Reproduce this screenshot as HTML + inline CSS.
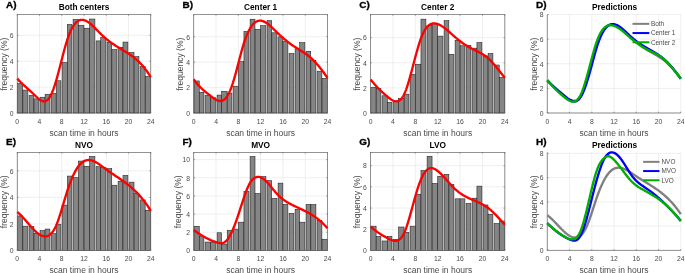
<!DOCTYPE html>
<html><head><meta charset="utf-8"><title>Scan time distributions</title>
<style>html,body{margin:0;padding:0;background:#fff}svg{display:block}</style></head>
<body>
<svg width="685" height="273" viewBox="0 0 685 273" font-family='"Liberation Sans", sans-serif'>
<rect width="685" height="273" fill="#fff"/>
<g>
<line x1="17.25" y1="14.5" x2="17.25" y2="113" stroke="#e4e4e4" stroke-width="0.6"/>
<line x1="39.5" y1="14.5" x2="39.5" y2="113" stroke="#e4e4e4" stroke-width="0.6"/>
<line x1="61.75" y1="14.5" x2="61.75" y2="113" stroke="#e4e4e4" stroke-width="0.6"/>
<line x1="84" y1="14.5" x2="84" y2="113" stroke="#e4e4e4" stroke-width="0.6"/>
<line x1="106.25" y1="14.5" x2="106.25" y2="113" stroke="#e4e4e4" stroke-width="0.6"/>
<line x1="128.5" y1="14.5" x2="128.5" y2="113" stroke="#e4e4e4" stroke-width="0.6"/>
<line x1="150.75" y1="14.5" x2="150.75" y2="113" stroke="#e4e4e4" stroke-width="0.6"/>
<line x1="17.25" y1="113" x2="150.75" y2="113" stroke="#e4e4e4" stroke-width="0.6"/>
<line x1="17.25" y1="87.11" x2="150.75" y2="87.11" stroke="#e4e4e4" stroke-width="0.6"/>
<line x1="17.25" y1="61.23" x2="150.75" y2="61.23" stroke="#e4e4e4" stroke-width="0.6"/>
<line x1="17.25" y1="35.34" x2="150.75" y2="35.34" stroke="#e4e4e4" stroke-width="0.6"/>
<rect x="17.5" y="83.62" width="5.26" height="29.38" fill="#858585" stroke="#1c1c1c" stroke-width="0.55"/>
<rect x="22.86" y="90.09" width="5.04" height="22.91" fill="#858585" stroke="#1c1c1c" stroke-width="0.55"/>
<rect x="29.1" y="95.4" width="4.79" height="17.6" fill="#858585" stroke="#1c1c1c" stroke-width="0.55"/>
<rect x="33.99" y="98.89" width="4.91" height="14.11" fill="#858585" stroke="#1c1c1c" stroke-width="0.55"/>
<rect x="40.1" y="97.21" width="4.91" height="15.79" fill="#858585" stroke="#1c1c1c" stroke-width="0.55"/>
<rect x="45.11" y="94.23" width="4.79" height="18.77" fill="#858585" stroke="#1c1c1c" stroke-width="0.55"/>
<rect x="51.1" y="93.46" width="5.04" height="19.54" fill="#858585" stroke="#1c1c1c" stroke-width="0.55"/>
<rect x="56.24" y="80.77" width="4.66" height="32.23" fill="#858585" stroke="#1c1c1c" stroke-width="0.55"/>
<rect x="62.1" y="62.52" width="5.16" height="50.48" fill="#858585" stroke="#1c1c1c" stroke-width="0.55"/>
<rect x="67.36" y="24.47" width="4.54" height="88.53" fill="#858585" stroke="#1c1c1c" stroke-width="0.55"/>
<rect x="73.1" y="19.42" width="5.29" height="93.58" fill="#858585" stroke="#1c1c1c" stroke-width="0.55"/>
<rect x="78.49" y="25.24" width="5.46" height="87.76" fill="#858585" stroke="#1c1c1c" stroke-width="0.55"/>
<rect x="84.05" y="28.22" width="5.46" height="84.78" fill="#858585" stroke="#1c1c1c" stroke-width="0.55"/>
<rect x="89.61" y="19.03" width="5.29" height="93.97" fill="#858585" stroke="#1c1c1c" stroke-width="0.55"/>
<rect x="96.1" y="40.9" width="4.54" height="72.1" fill="#858585" stroke="#1c1c1c" stroke-width="0.55"/>
<rect x="100.74" y="37.41" width="5.16" height="75.59" fill="#858585" stroke="#1c1c1c" stroke-width="0.55"/>
<rect x="107.1" y="42.2" width="4.66" height="70.8" fill="#858585" stroke="#1c1c1c" stroke-width="0.55"/>
<rect x="111.86" y="49.58" width="5.04" height="63.42" fill="#858585" stroke="#1c1c1c" stroke-width="0.55"/>
<rect x="118.1" y="47.25" width="4.79" height="65.75" fill="#858585" stroke="#1c1c1c" stroke-width="0.55"/>
<rect x="122.99" y="42.07" width="4.91" height="70.93" fill="#858585" stroke="#1c1c1c" stroke-width="0.55"/>
<rect x="129.1" y="52.42" width="4.91" height="60.58" fill="#858585" stroke="#1c1c1c" stroke-width="0.55"/>
<rect x="134.11" y="56.7" width="4.79" height="56.3" fill="#858585" stroke="#1c1c1c" stroke-width="0.55"/>
<rect x="140.1" y="66.66" width="5.04" height="46.34" fill="#858585" stroke="#1c1c1c" stroke-width="0.55"/>
<rect x="145.24" y="76.5" width="5.26" height="36.5" fill="#858585" stroke="#1c1c1c" stroke-width="0.55"/>
<rect x="17.25" y="14.5" width="133.5" height="98.5" fill="none" stroke="#666" stroke-width="0.7"/>
<line x1="17.25" y1="113" x2="17.25" y2="111.7" stroke="#666" stroke-width="0.6"/>
<line x1="17.25" y1="14.5" x2="17.25" y2="15.8" stroke="#666" stroke-width="0.6"/>
<line x1="39.5" y1="113" x2="39.5" y2="111.7" stroke="#666" stroke-width="0.6"/>
<line x1="39.5" y1="14.5" x2="39.5" y2="15.8" stroke="#666" stroke-width="0.6"/>
<line x1="61.75" y1="113" x2="61.75" y2="111.7" stroke="#666" stroke-width="0.6"/>
<line x1="61.75" y1="14.5" x2="61.75" y2="15.8" stroke="#666" stroke-width="0.6"/>
<line x1="84" y1="113" x2="84" y2="111.7" stroke="#666" stroke-width="0.6"/>
<line x1="84" y1="14.5" x2="84" y2="15.8" stroke="#666" stroke-width="0.6"/>
<line x1="106.25" y1="113" x2="106.25" y2="111.7" stroke="#666" stroke-width="0.6"/>
<line x1="106.25" y1="14.5" x2="106.25" y2="15.8" stroke="#666" stroke-width="0.6"/>
<line x1="128.5" y1="113" x2="128.5" y2="111.7" stroke="#666" stroke-width="0.6"/>
<line x1="128.5" y1="14.5" x2="128.5" y2="15.8" stroke="#666" stroke-width="0.6"/>
<line x1="150.75" y1="113" x2="150.75" y2="111.7" stroke="#666" stroke-width="0.6"/>
<line x1="150.75" y1="14.5" x2="150.75" y2="15.8" stroke="#666" stroke-width="0.6"/>
<line x1="17.25" y1="113" x2="18.55" y2="113" stroke="#666" stroke-width="0.6"/>
<line x1="150.75" y1="113" x2="149.45" y2="113" stroke="#666" stroke-width="0.6"/>
<line x1="17.25" y1="87.11" x2="18.55" y2="87.11" stroke="#666" stroke-width="0.6"/>
<line x1="150.75" y1="87.11" x2="149.45" y2="87.11" stroke="#666" stroke-width="0.6"/>
<line x1="17.25" y1="61.23" x2="18.55" y2="61.23" stroke="#666" stroke-width="0.6"/>
<line x1="150.75" y1="61.23" x2="149.45" y2="61.23" stroke="#666" stroke-width="0.6"/>
<line x1="17.25" y1="35.34" x2="18.55" y2="35.34" stroke="#666" stroke-width="0.6"/>
<line x1="150.75" y1="35.34" x2="149.45" y2="35.34" stroke="#666" stroke-width="0.6"/>
<path d="M17.25 78.56 L17.95 79.34 L18.64 80.09 L19.34 80.83 L20.03 81.55 L20.73 82.26 L21.42 82.95 L22.12 83.62 L22.81 84.28 L23.51 84.94 L24.2 85.58 L24.9 86.22 L25.59 86.85 L26.29 87.47 L26.98 88.09 L27.68 88.71 L28.38 89.33 L29.07 89.95 L29.77 90.57 L30.46 91.19 L31.16 91.82 L31.85 92.45 L32.55 93.1 L33.24 93.75 L33.94 94.41 L34.63 95.09 L35.33 95.76 L36.02 96.44 L36.72 97.1 L37.41 97.74 L38.11 98.36 L38.8 98.94 L39.5 99.48 L40.2 99.96 L40.89 100.39 L41.59 100.75 L42.28 101.03 L42.98 101.23 L43.67 101.35 L44.37 101.36 L45.06 101.26 L45.76 101.06 L46.45 100.73 L47.15 100.27 L47.84 99.67 L48.54 98.92 L49.23 98.03 L49.93 96.97 L50.62 95.74 L51.32 94.33 L52.02 92.76 L52.71 91.04 L53.41 89.17 L54.1 87.17 L54.8 85.05 L55.49 82.82 L56.19 80.49 L56.88 78.07 L57.58 75.58 L58.27 73.02 L58.97 70.41 L59.66 67.76 L60.36 65.08 L61.05 62.39 L61.75 59.68 L62.45 56.98 L63.14 54.3 L63.84 51.65 L64.53 49.06 L65.23 46.55 L65.92 44.12 L66.62 41.79 L67.31 39.59 L68.01 37.52 L68.7 35.59 L69.4 33.79 L70.09 32.11 L70.79 30.56 L71.48 29.14 L72.18 27.82 L72.88 26.63 L73.57 25.54 L74.27 24.56 L74.96 23.69 L75.66 22.91 L76.35 22.23 L77.05 21.64 L77.74 21.15 L78.44 20.74 L79.13 20.41 L79.83 20.16 L80.52 19.98 L81.22 19.88 L81.91 19.85 L82.61 19.88 L83.3 19.97 L84 20.12 L84.7 20.33 L85.39 20.59 L86.09 20.9 L86.78 21.26 L87.48 21.67 L88.17 22.11 L88.87 22.59 L89.56 23.11 L90.26 23.67 L90.95 24.25 L91.65 24.85 L92.34 25.49 L93.04 26.14 L93.73 26.81 L94.43 27.49 L95.12 28.19 L95.82 28.9 L96.52 29.61 L97.21 30.33 L97.91 31.04 L98.6 31.75 L99.3 32.46 L99.99 33.16 L100.69 33.85 L101.38 34.52 L102.08 35.18 L102.77 35.82 L103.47 36.45 L104.16 37.07 L104.86 37.68 L105.55 38.27 L106.25 38.85 L106.95 39.42 L107.64 39.98 L108.34 40.53 L109.03 41.06 L109.73 41.59 L110.42 42.11 L111.12 42.61 L111.81 43.11 L112.51 43.6 L113.2 44.08 L113.9 44.56 L114.59 45.02 L115.29 45.48 L115.98 45.94 L116.68 46.38 L117.38 46.82 L118.07 47.26 L118.77 47.69 L119.46 48.11 L120.16 48.53 L120.85 48.95 L121.55 49.37 L122.24 49.79 L122.94 50.21 L123.63 50.63 L124.33 51.05 L125.02 51.48 L125.72 51.91 L126.41 52.34 L127.11 52.78 L127.8 53.23 L128.5 53.68 L129.2 54.14 L129.89 54.61 L130.59 55.09 L131.28 55.58 L131.98 56.08 L132.67 56.6 L133.37 57.12 L134.06 57.67 L134.76 58.22 L135.45 58.79 L136.15 59.38 L136.84 59.99 L137.54 60.62 L138.23 61.26 L138.93 61.93 L139.62 62.61 L140.32 63.32 L141.02 64.05 L141.71 64.8 L142.41 65.58 L143.1 66.38 L143.8 67.21 L144.49 68.07 L145.19 68.96 L145.88 69.87 L146.58 70.81 L147.27 71.78 L147.97 72.79 L148.66 73.83 L149.36 74.9 L150.05 76 L150.75 77.14" fill="none" stroke="#ff0000" stroke-width="2.35" stroke-linejoin="round"/>
<text x="17.25" y="123.9" font-size="6.8" fill="#4a4a4a" text-anchor="middle">0</text>
<text x="39.5" y="123.9" font-size="6.8" fill="#4a4a4a" text-anchor="middle">4</text>
<text x="61.75" y="123.9" font-size="6.8" fill="#4a4a4a" text-anchor="middle">8</text>
<text x="84" y="123.9" font-size="6.8" fill="#4a4a4a" text-anchor="middle">12</text>
<text x="106.25" y="123.9" font-size="6.8" fill="#4a4a4a" text-anchor="middle">16</text>
<text x="128.5" y="123.9" font-size="6.8" fill="#4a4a4a" text-anchor="middle">20</text>
<text x="150.75" y="123.9" font-size="6.8" fill="#4a4a4a" text-anchor="middle">24</text>
<text x="13.55" y="115.8" font-size="6.8" fill="#4a4a4a" text-anchor="end">0</text>
<text x="13.55" y="89.91" font-size="6.8" fill="#4a4a4a" text-anchor="end">2</text>
<text x="13.55" y="64.03" font-size="6.8" fill="#4a4a4a" text-anchor="end">4</text>
<text x="13.55" y="38.14" font-size="6.8" fill="#4a4a4a" text-anchor="end">6</text>
<text x="84" y="136" font-size="8.5" fill="#4a4a4a" text-anchor="middle">scan time in hours</text>
<text transform="translate(6.75 64.15) rotate(-90)" font-size="8.5" fill="#4a4a4a" text-anchor="middle">frequency (%)</text>
<text x="84" y="9.9" font-size="8.3" font-weight="bold" fill="#000" text-anchor="middle">Both centers</text>
<text transform="translate(6.05 7.5) scale(1.07 1)" font-size="9.3" font-weight="bold" fill="#000" stroke="#000" stroke-width="0.3">A)</text>
</g>
<g>
<line x1="193.72" y1="14.5" x2="193.72" y2="113" stroke="#e4e4e4" stroke-width="0.6"/>
<line x1="216.02" y1="14.5" x2="216.02" y2="113" stroke="#e4e4e4" stroke-width="0.6"/>
<line x1="238.32" y1="14.5" x2="238.32" y2="113" stroke="#e4e4e4" stroke-width="0.6"/>
<line x1="260.62" y1="14.5" x2="260.62" y2="113" stroke="#e4e4e4" stroke-width="0.6"/>
<line x1="282.92" y1="14.5" x2="282.92" y2="113" stroke="#e4e4e4" stroke-width="0.6"/>
<line x1="305.22" y1="14.5" x2="305.22" y2="113" stroke="#e4e4e4" stroke-width="0.6"/>
<line x1="327.52" y1="14.5" x2="327.52" y2="113" stroke="#e4e4e4" stroke-width="0.6"/>
<line x1="193.72" y1="113" x2="327.52" y2="113" stroke="#e4e4e4" stroke-width="0.6"/>
<line x1="193.72" y1="87.58" x2="327.52" y2="87.58" stroke="#e4e4e4" stroke-width="0.6"/>
<line x1="193.72" y1="62.16" x2="327.52" y2="62.16" stroke="#e4e4e4" stroke-width="0.6"/>
<line x1="193.72" y1="36.74" x2="327.52" y2="36.74" stroke="#e4e4e4" stroke-width="0.6"/>
<rect x="193.97" y="80.97" width="5.27" height="32.03" fill="#858585" stroke="#1c1c1c" stroke-width="0.55"/>
<rect x="199.34" y="92.28" width="4.56" height="20.72" fill="#858585" stroke="#1c1c1c" stroke-width="0.55"/>
<rect x="205.1" y="95.33" width="5.29" height="17.67" fill="#858585" stroke="#1c1c1c" stroke-width="0.55"/>
<rect x="210.5" y="97.75" width="5.41" height="15.25" fill="#858585" stroke="#1c1c1c" stroke-width="0.55"/>
<rect x="217.1" y="95.08" width="4.44" height="17.92" fill="#858585" stroke="#1c1c1c" stroke-width="0.55"/>
<rect x="221.65" y="91.27" width="5.47" height="21.73" fill="#858585" stroke="#1c1c1c" stroke-width="0.55"/>
<rect x="227.22" y="93.05" width="4.68" height="19.95" fill="#858585" stroke="#1c1c1c" stroke-width="0.55"/>
<rect x="233.1" y="86.18" width="5.17" height="26.82" fill="#858585" stroke="#1c1c1c" stroke-width="0.55"/>
<rect x="238.37" y="61.65" width="5.47" height="51.35" fill="#858585" stroke="#1c1c1c" stroke-width="0.55"/>
<rect x="243.95" y="31.4" width="4.95" height="81.6" fill="#858585" stroke="#1c1c1c" stroke-width="0.55"/>
<rect x="250.1" y="19.2" width="4.9" height="93.8" fill="#858585" stroke="#1c1c1c" stroke-width="0.55"/>
<rect x="255.1" y="29.37" width="5.47" height="83.63" fill="#858585" stroke="#1c1c1c" stroke-width="0.55"/>
<rect x="260.67" y="25.68" width="5.23" height="87.32" fill="#858585" stroke="#1c1c1c" stroke-width="0.55"/>
<rect x="267.1" y="20.6" width="4.62" height="92.4" fill="#858585" stroke="#1c1c1c" stroke-width="0.55"/>
<rect x="271.82" y="32.8" width="5.08" height="80.2" fill="#858585" stroke="#1c1c1c" stroke-width="0.55"/>
<rect x="278.1" y="36.87" width="4.77" height="76.13" fill="#858585" stroke="#1c1c1c" stroke-width="0.55"/>
<rect x="282.97" y="41.57" width="4.93" height="71.43" fill="#858585" stroke="#1c1c1c" stroke-width="0.55"/>
<rect x="289.1" y="53.52" width="4.8" height="59.48" fill="#858585" stroke="#1c1c1c" stroke-width="0.55"/>
<rect x="295.1" y="48.82" width="4.49" height="64.18" fill="#858585" stroke="#1c1c1c" stroke-width="0.55"/>
<rect x="299.69" y="42.72" width="5.2" height="70.28" fill="#858585" stroke="#1c1c1c" stroke-width="0.55"/>
<rect x="306.1" y="51.23" width="4.64" height="61.77" fill="#858585" stroke="#1c1c1c" stroke-width="0.55"/>
<rect x="310.85" y="60.38" width="5.05" height="52.62" fill="#858585" stroke="#1c1c1c" stroke-width="0.55"/>
<rect x="317.1" y="71.19" width="4.79" height="41.81" fill="#858585" stroke="#1c1c1c" stroke-width="0.55"/>
<rect x="322" y="78.3" width="5.27" height="34.7" fill="#858585" stroke="#1c1c1c" stroke-width="0.55"/>
<rect x="193.72" y="14.5" width="133.8" height="98.5" fill="none" stroke="#666" stroke-width="0.7"/>
<line x1="193.72" y1="113" x2="193.72" y2="111.7" stroke="#666" stroke-width="0.6"/>
<line x1="193.72" y1="14.5" x2="193.72" y2="15.8" stroke="#666" stroke-width="0.6"/>
<line x1="216.02" y1="113" x2="216.02" y2="111.7" stroke="#666" stroke-width="0.6"/>
<line x1="216.02" y1="14.5" x2="216.02" y2="15.8" stroke="#666" stroke-width="0.6"/>
<line x1="238.32" y1="113" x2="238.32" y2="111.7" stroke="#666" stroke-width="0.6"/>
<line x1="238.32" y1="14.5" x2="238.32" y2="15.8" stroke="#666" stroke-width="0.6"/>
<line x1="260.62" y1="113" x2="260.62" y2="111.7" stroke="#666" stroke-width="0.6"/>
<line x1="260.62" y1="14.5" x2="260.62" y2="15.8" stroke="#666" stroke-width="0.6"/>
<line x1="282.92" y1="113" x2="282.92" y2="111.7" stroke="#666" stroke-width="0.6"/>
<line x1="282.92" y1="14.5" x2="282.92" y2="15.8" stroke="#666" stroke-width="0.6"/>
<line x1="305.22" y1="113" x2="305.22" y2="111.7" stroke="#666" stroke-width="0.6"/>
<line x1="305.22" y1="14.5" x2="305.22" y2="15.8" stroke="#666" stroke-width="0.6"/>
<line x1="327.52" y1="113" x2="327.52" y2="111.7" stroke="#666" stroke-width="0.6"/>
<line x1="327.52" y1="14.5" x2="327.52" y2="15.8" stroke="#666" stroke-width="0.6"/>
<line x1="193.72" y1="113" x2="195.02" y2="113" stroke="#666" stroke-width="0.6"/>
<line x1="327.52" y1="113" x2="326.22" y2="113" stroke="#666" stroke-width="0.6"/>
<line x1="193.72" y1="87.58" x2="195.02" y2="87.58" stroke="#666" stroke-width="0.6"/>
<line x1="327.52" y1="87.58" x2="326.22" y2="87.58" stroke="#666" stroke-width="0.6"/>
<line x1="193.72" y1="62.16" x2="195.02" y2="62.16" stroke="#666" stroke-width="0.6"/>
<line x1="327.52" y1="62.16" x2="326.22" y2="62.16" stroke="#666" stroke-width="0.6"/>
<line x1="193.72" y1="36.74" x2="195.02" y2="36.74" stroke="#666" stroke-width="0.6"/>
<line x1="327.52" y1="36.74" x2="326.22" y2="36.74" stroke="#666" stroke-width="0.6"/>
<path d="M193.72 79.28 L194.42 80.26 L195.11 81.21 L195.81 82.12 L196.51 83 L197.2 83.84 L197.9 84.65 L198.6 85.43 L199.29 86.18 L199.99 86.9 L200.69 87.6 L201.39 88.27 L202.08 88.93 L202.78 89.56 L203.48 90.18 L204.17 90.78 L204.87 91.37 L205.57 91.94 L206.26 92.51 L206.96 93.06 L207.66 93.62 L208.35 94.16 L209.05 94.7 L209.75 95.25 L210.44 95.79 L211.14 96.34 L211.84 96.88 L212.54 97.41 L213.23 97.93 L213.93 98.42 L214.63 98.89 L215.32 99.33 L216.02 99.73 L216.72 100.09 L217.41 100.4 L218.11 100.65 L218.81 100.84 L219.5 100.96 L220.2 101.01 L220.9 100.98 L221.59 100.87 L222.29 100.67 L222.99 100.37 L223.69 99.96 L224.38 99.45 L225.08 98.83 L225.78 98.09 L226.47 97.22 L227.17 96.22 L227.87 95.08 L228.56 93.81 L229.26 92.41 L229.96 90.87 L230.65 89.19 L231.35 87.38 L232.05 85.44 L232.75 83.37 L233.44 81.17 L234.14 78.86 L234.84 76.45 L235.53 73.95 L236.23 71.38 L236.93 68.77 L237.62 66.11 L238.32 63.44 L239.02 60.75 L239.71 58.08 L240.41 55.44 L241.11 52.84 L241.8 50.3 L242.5 47.84 L243.2 45.47 L243.9 43.21 L244.59 41.08 L245.29 39.07 L245.99 37.18 L246.68 35.41 L247.38 33.75 L248.08 32.21 L248.77 30.78 L249.47 29.46 L250.17 28.24 L250.86 27.12 L251.56 26.11 L252.26 25.19 L252.95 24.36 L253.65 23.63 L254.35 22.98 L255.05 22.42 L255.74 21.94 L256.44 21.54 L257.14 21.22 L257.83 20.97 L258.53 20.8 L259.23 20.69 L259.92 20.65 L260.62 20.68 L261.32 20.76 L262.01 20.9 L262.71 21.1 L263.41 21.35 L264.1 21.65 L264.8 21.99 L265.5 22.38 L266.19 22.81 L266.89 23.27 L267.59 23.77 L268.29 24.3 L268.98 24.86 L269.68 25.45 L270.38 26.06 L271.07 26.68 L271.77 27.33 L272.47 27.99 L273.16 28.66 L273.86 29.34 L274.56 30.03 L275.25 30.71 L275.95 31.4 L276.65 32.08 L277.35 32.76 L278.04 33.43 L278.74 34.09 L279.44 34.74 L280.13 35.38 L280.83 36.02 L281.53 36.64 L282.22 37.26 L282.92 37.86 L283.62 38.46 L284.31 39.05 L285.01 39.63 L285.71 40.2 L286.4 40.76 L287.1 41.32 L287.8 41.86 L288.5 42.4 L289.19 42.93 L289.89 43.44 L290.59 43.95 L291.28 44.46 L291.98 44.95 L292.68 45.43 L293.37 45.91 L294.07 46.37 L294.77 46.83 L295.46 47.28 L296.16 47.72 L296.86 48.16 L297.55 48.6 L298.25 49.03 L298.95 49.47 L299.64 49.9 L300.34 50.33 L301.04 50.77 L301.74 51.21 L302.43 51.66 L303.13 52.11 L303.83 52.57 L304.52 53.04 L305.22 53.51 L305.92 54 L306.61 54.51 L307.31 55.02 L308.01 55.56 L308.7 56.1 L309.4 56.67 L310.1 57.26 L310.8 57.86 L311.49 58.49 L312.19 59.13 L312.89 59.8 L313.58 60.49 L314.28 61.2 L314.98 61.93 L315.67 62.68 L316.37 63.44 L317.07 64.23 L317.76 65.03 L318.46 65.85 L319.16 66.69 L319.85 67.54 L320.55 68.42 L321.25 69.31 L321.94 70.21 L322.64 71.13 L323.34 72.07 L324.04 73.02 L324.73 73.98 L325.43 74.96 L326.13 75.95 L326.82 76.96 L327.52 77.98" fill="none" stroke="#ff0000" stroke-width="2.35" stroke-linejoin="round"/>
<text x="193.72" y="123.9" font-size="6.8" fill="#4a4a4a" text-anchor="middle">0</text>
<text x="216.02" y="123.9" font-size="6.8" fill="#4a4a4a" text-anchor="middle">4</text>
<text x="238.32" y="123.9" font-size="6.8" fill="#4a4a4a" text-anchor="middle">8</text>
<text x="260.62" y="123.9" font-size="6.8" fill="#4a4a4a" text-anchor="middle">12</text>
<text x="282.92" y="123.9" font-size="6.8" fill="#4a4a4a" text-anchor="middle">16</text>
<text x="305.22" y="123.9" font-size="6.8" fill="#4a4a4a" text-anchor="middle">20</text>
<text x="327.52" y="123.9" font-size="6.8" fill="#4a4a4a" text-anchor="middle">24</text>
<text x="190.02" y="115.8" font-size="6.8" fill="#4a4a4a" text-anchor="end">0</text>
<text x="190.02" y="90.38" font-size="6.8" fill="#4a4a4a" text-anchor="end">2</text>
<text x="190.02" y="64.96" font-size="6.8" fill="#4a4a4a" text-anchor="end">4</text>
<text x="190.02" y="39.54" font-size="6.8" fill="#4a4a4a" text-anchor="end">6</text>
<text x="260.62" y="136" font-size="8.5" fill="#4a4a4a" text-anchor="middle">scan time in hours</text>
<text transform="translate(183.22 64.15) rotate(-90)" font-size="8.5" fill="#4a4a4a" text-anchor="middle">frequency (%)</text>
<text x="260.62" y="9.9" font-size="8.3" font-weight="bold" fill="#000" text-anchor="middle">Center 1</text>
<text transform="translate(182.52 7.5) scale(1.07 1)" font-size="9.3" font-weight="bold" fill="#000" stroke="#000" stroke-width="0.3">B)</text>
</g>
<g>
<line x1="370.55" y1="14.5" x2="370.55" y2="113" stroke="#e4e4e4" stroke-width="0.6"/>
<line x1="392.93" y1="14.5" x2="392.93" y2="113" stroke="#e4e4e4" stroke-width="0.6"/>
<line x1="415.32" y1="14.5" x2="415.32" y2="113" stroke="#e4e4e4" stroke-width="0.6"/>
<line x1="437.7" y1="14.5" x2="437.7" y2="113" stroke="#e4e4e4" stroke-width="0.6"/>
<line x1="460.08" y1="14.5" x2="460.08" y2="113" stroke="#e4e4e4" stroke-width="0.6"/>
<line x1="482.47" y1="14.5" x2="482.47" y2="113" stroke="#e4e4e4" stroke-width="0.6"/>
<line x1="504.85" y1="14.5" x2="504.85" y2="113" stroke="#e4e4e4" stroke-width="0.6"/>
<line x1="370.55" y1="113" x2="504.85" y2="113" stroke="#e4e4e4" stroke-width="0.6"/>
<line x1="370.55" y1="87.87" x2="504.85" y2="87.87" stroke="#e4e4e4" stroke-width="0.6"/>
<line x1="370.55" y1="62.74" x2="504.85" y2="62.74" stroke="#e4e4e4" stroke-width="0.6"/>
<line x1="370.55" y1="37.62" x2="504.85" y2="37.62" stroke="#e4e4e4" stroke-width="0.6"/>
<rect x="370.8" y="87.24" width="5.3" height="25.76" fill="#858585" stroke="#1c1c1c" stroke-width="0.55"/>
<rect x="376.2" y="88.63" width="4.7" height="24.37" fill="#858585" stroke="#1c1c1c" stroke-width="0.55"/>
<rect x="382.1" y="95.79" width="5.19" height="17.21" fill="#858585" stroke="#1c1c1c" stroke-width="0.55"/>
<rect x="387.39" y="102.32" width="4.51" height="10.68" fill="#858585" stroke="#1c1c1c" stroke-width="0.55"/>
<rect x="393.1" y="100.94" width="5.38" height="12.06" fill="#858585" stroke="#1c1c1c" stroke-width="0.55"/>
<rect x="398.58" y="98.43" width="5.5" height="14.57" fill="#858585" stroke="#1c1c1c" stroke-width="0.55"/>
<rect x="404.18" y="94.15" width="4.72" height="18.85" fill="#858585" stroke="#1c1c1c" stroke-width="0.55"/>
<rect x="410.1" y="74.3" width="5.17" height="38.7" fill="#858585" stroke="#1c1c1c" stroke-width="0.55"/>
<rect x="415.37" y="64.25" width="5.5" height="48.75" fill="#858585" stroke="#1c1c1c" stroke-width="0.55"/>
<rect x="420.96" y="19.15" width="4.94" height="93.85" fill="#858585" stroke="#1c1c1c" stroke-width="0.55"/>
<rect x="427.1" y="25.3" width="4.95" height="87.7" fill="#858585" stroke="#1c1c1c" stroke-width="0.55"/>
<rect x="432.15" y="23.8" width="5.5" height="89.2" fill="#858585" stroke="#1c1c1c" stroke-width="0.55"/>
<rect x="437.75" y="36.11" width="5.15" height="76.89" fill="#858585" stroke="#1c1c1c" stroke-width="0.55"/>
<rect x="444.1" y="20.66" width="4.74" height="92.34" fill="#858585" stroke="#1c1c1c" stroke-width="0.55"/>
<rect x="448.94" y="54.33" width="4.96" height="58.67" fill="#858585" stroke="#1c1c1c" stroke-width="0.55"/>
<rect x="455.1" y="40.26" width="4.93" height="72.74" fill="#858585" stroke="#1c1c1c" stroke-width="0.55"/>
<rect x="460.13" y="45.78" width="4.77" height="67.22" fill="#858585" stroke="#1c1c1c" stroke-width="0.55"/>
<rect x="466.1" y="45.28" width="4.8" height="67.72" fill="#858585" stroke="#1c1c1c" stroke-width="0.55"/>
<rect x="472.1" y="48.17" width="4.72" height="64.83" fill="#858585" stroke="#1c1c1c" stroke-width="0.55"/>
<rect x="476.92" y="42.64" width="4.98" height="70.36" fill="#858585" stroke="#1c1c1c" stroke-width="0.55"/>
<rect x="483.1" y="55.96" width="4.91" height="57.04" fill="#858585" stroke="#1c1c1c" stroke-width="0.55"/>
<rect x="488.11" y="53.57" width="4.79" height="59.43" fill="#858585" stroke="#1c1c1c" stroke-width="0.55"/>
<rect x="494.1" y="65.01" width="5.1" height="47.99" fill="#858585" stroke="#1c1c1c" stroke-width="0.55"/>
<rect x="499.3" y="77.44" width="5.3" height="35.56" fill="#858585" stroke="#1c1c1c" stroke-width="0.55"/>
<rect x="370.55" y="14.5" width="134.3" height="98.5" fill="none" stroke="#666" stroke-width="0.7"/>
<line x1="370.55" y1="113" x2="370.55" y2="111.7" stroke="#666" stroke-width="0.6"/>
<line x1="370.55" y1="14.5" x2="370.55" y2="15.8" stroke="#666" stroke-width="0.6"/>
<line x1="392.93" y1="113" x2="392.93" y2="111.7" stroke="#666" stroke-width="0.6"/>
<line x1="392.93" y1="14.5" x2="392.93" y2="15.8" stroke="#666" stroke-width="0.6"/>
<line x1="415.32" y1="113" x2="415.32" y2="111.7" stroke="#666" stroke-width="0.6"/>
<line x1="415.32" y1="14.5" x2="415.32" y2="15.8" stroke="#666" stroke-width="0.6"/>
<line x1="437.7" y1="113" x2="437.7" y2="111.7" stroke="#666" stroke-width="0.6"/>
<line x1="437.7" y1="14.5" x2="437.7" y2="15.8" stroke="#666" stroke-width="0.6"/>
<line x1="460.08" y1="113" x2="460.08" y2="111.7" stroke="#666" stroke-width="0.6"/>
<line x1="460.08" y1="14.5" x2="460.08" y2="15.8" stroke="#666" stroke-width="0.6"/>
<line x1="482.47" y1="113" x2="482.47" y2="111.7" stroke="#666" stroke-width="0.6"/>
<line x1="482.47" y1="14.5" x2="482.47" y2="15.8" stroke="#666" stroke-width="0.6"/>
<line x1="504.85" y1="113" x2="504.85" y2="111.7" stroke="#666" stroke-width="0.6"/>
<line x1="504.85" y1="14.5" x2="504.85" y2="15.8" stroke="#666" stroke-width="0.6"/>
<line x1="370.55" y1="113" x2="371.85" y2="113" stroke="#666" stroke-width="0.6"/>
<line x1="504.85" y1="113" x2="503.55" y2="113" stroke="#666" stroke-width="0.6"/>
<line x1="370.55" y1="87.87" x2="371.85" y2="87.87" stroke="#666" stroke-width="0.6"/>
<line x1="504.85" y1="87.87" x2="503.55" y2="87.87" stroke="#666" stroke-width="0.6"/>
<line x1="370.55" y1="62.74" x2="371.85" y2="62.74" stroke="#666" stroke-width="0.6"/>
<line x1="504.85" y1="62.74" x2="503.55" y2="62.74" stroke="#666" stroke-width="0.6"/>
<line x1="370.55" y1="37.62" x2="371.85" y2="37.62" stroke="#666" stroke-width="0.6"/>
<line x1="504.85" y1="37.62" x2="503.55" y2="37.62" stroke="#666" stroke-width="0.6"/>
<path d="M370.55 79.46 L371.25 80.33 L371.95 81.18 L372.65 82.02 L373.35 82.85 L374.05 83.65 L374.75 84.45 L375.45 85.23 L376.15 85.99 L376.85 86.74 L377.54 87.48 L378.24 88.2 L378.94 88.92 L379.64 89.61 L380.34 90.3 L381.04 90.98 L381.74 91.64 L382.44 92.29 L383.14 92.94 L383.84 93.57 L384.54 94.19 L385.24 94.8 L385.94 95.4 L386.64 96 L387.34 96.58 L388.04 97.15 L388.74 97.72 L389.44 98.26 L390.14 98.77 L390.83 99.26 L391.53 99.7 L392.23 100.11 L392.93 100.47 L393.63 100.77 L394.33 101.02 L395.03 101.2 L395.73 101.31 L396.43 101.35 L397.13 101.3 L397.83 101.16 L398.53 100.93 L399.23 100.59 L399.93 100.13 L400.63 99.55 L401.33 98.83 L402.03 97.96 L402.73 96.94 L403.43 95.75 L404.12 94.4 L404.82 92.86 L405.52 91.15 L406.22 89.29 L406.92 87.29 L407.62 85.15 L408.32 82.91 L409.02 80.56 L409.72 78.12 L410.42 75.62 L411.12 73.05 L411.82 70.43 L412.52 67.79 L413.22 65.12 L413.92 62.45 L414.62 59.79 L415.32 57.16 L416.02 54.56 L416.72 52 L417.42 49.52 L418.11 47.11 L418.81 44.79 L419.51 42.57 L420.21 40.48 L420.91 38.51 L421.61 36.69 L422.31 35.01 L423.01 33.47 L423.71 32.06 L424.41 30.78 L425.11 29.61 L425.81 28.57 L426.51 27.63 L427.21 26.81 L427.91 26.09 L428.61 25.46 L429.31 24.93 L430.01 24.49 L430.71 24.13 L431.4 23.85 L432.1 23.64 L432.8 23.5 L433.5 23.43 L434.2 23.41 L434.9 23.45 L435.6 23.54 L436.3 23.68 L437 23.86 L437.7 24.08 L438.4 24.34 L439.1 24.64 L439.8 24.97 L440.5 25.34 L441.2 25.74 L441.9 26.17 L442.6 26.63 L443.3 27.11 L444 27.61 L444.69 28.14 L445.39 28.68 L446.09 29.24 L446.79 29.82 L447.49 30.41 L448.19 31.01 L448.89 31.62 L449.59 32.24 L450.29 32.87 L450.99 33.49 L451.69 34.12 L452.39 34.74 L453.09 35.37 L453.79 35.99 L454.49 36.6 L455.19 37.2 L455.89 37.79 L456.59 38.37 L457.29 38.95 L457.98 39.51 L458.68 40.07 L459.38 40.62 L460.08 41.15 L460.78 41.68 L461.48 42.2 L462.18 42.7 L462.88 43.2 L463.58 43.69 L464.28 44.17 L464.98 44.63 L465.68 45.09 L466.38 45.54 L467.08 45.98 L467.78 46.4 L468.48 46.82 L469.18 47.23 L469.88 47.62 L470.58 48.01 L471.28 48.38 L471.97 48.75 L472.67 49.1 L473.37 49.45 L474.07 49.79 L474.77 50.13 L475.47 50.47 L476.17 50.81 L476.87 51.15 L477.57 51.49 L478.27 51.84 L478.97 52.19 L479.67 52.55 L480.37 52.92 L481.07 53.31 L481.77 53.71 L482.47 54.12 L483.17 54.55 L483.87 55 L484.57 55.47 L485.26 55.97 L485.96 56.48 L486.66 57.03 L487.36 57.6 L488.06 58.2 L488.76 58.83 L489.46 59.49 L490.16 60.17 L490.86 60.89 L491.56 61.62 L492.26 62.38 L492.96 63.16 L493.66 63.96 L494.36 64.78 L495.06 65.61 L495.76 66.45 L496.46 67.3 L497.16 68.17 L497.86 69.04 L498.55 69.92 L499.25 70.8 L499.95 71.68 L500.65 72.57 L501.35 73.45 L502.05 74.33 L502.75 75.21 L503.45 76.08 L504.15 76.94 L504.85 77.79" fill="none" stroke="#ff0000" stroke-width="2.35" stroke-linejoin="round"/>
<text x="370.55" y="123.9" font-size="6.8" fill="#4a4a4a" text-anchor="middle">0</text>
<text x="392.93" y="123.9" font-size="6.8" fill="#4a4a4a" text-anchor="middle">4</text>
<text x="415.32" y="123.9" font-size="6.8" fill="#4a4a4a" text-anchor="middle">8</text>
<text x="437.7" y="123.9" font-size="6.8" fill="#4a4a4a" text-anchor="middle">12</text>
<text x="460.08" y="123.9" font-size="6.8" fill="#4a4a4a" text-anchor="middle">16</text>
<text x="482.47" y="123.9" font-size="6.8" fill="#4a4a4a" text-anchor="middle">20</text>
<text x="504.85" y="123.9" font-size="6.8" fill="#4a4a4a" text-anchor="middle">24</text>
<text x="366.85" y="115.8" font-size="6.8" fill="#4a4a4a" text-anchor="end">0</text>
<text x="366.85" y="90.67" font-size="6.8" fill="#4a4a4a" text-anchor="end">2</text>
<text x="366.85" y="65.54" font-size="6.8" fill="#4a4a4a" text-anchor="end">4</text>
<text x="366.85" y="40.42" font-size="6.8" fill="#4a4a4a" text-anchor="end">6</text>
<text x="437.7" y="136" font-size="8.5" fill="#4a4a4a" text-anchor="middle">scan time in hours</text>
<text transform="translate(360.05 64.15) rotate(-90)" font-size="8.5" fill="#4a4a4a" text-anchor="middle">frequency (%)</text>
<text x="437.7" y="9.9" font-size="8.3" font-weight="bold" fill="#000" text-anchor="middle">Center 2</text>
<text transform="translate(359.35 7.5) scale(1.07 1)" font-size="9.3" font-weight="bold" fill="#000" stroke="#000" stroke-width="0.3">C)</text>
</g>
<g>
<line x1="547.3" y1="14.5" x2="547.3" y2="113" stroke="#e4e4e4" stroke-width="0.6"/>
<line x1="569.55" y1="14.5" x2="569.55" y2="113" stroke="#e4e4e4" stroke-width="0.6"/>
<line x1="591.8" y1="14.5" x2="591.8" y2="113" stroke="#e4e4e4" stroke-width="0.6"/>
<line x1="614.05" y1="14.5" x2="614.05" y2="113" stroke="#e4e4e4" stroke-width="0.6"/>
<line x1="636.3" y1="14.5" x2="636.3" y2="113" stroke="#e4e4e4" stroke-width="0.6"/>
<line x1="658.55" y1="14.5" x2="658.55" y2="113" stroke="#e4e4e4" stroke-width="0.6"/>
<line x1="680.8" y1="14.5" x2="680.8" y2="113" stroke="#e4e4e4" stroke-width="0.6"/>
<line x1="547.3" y1="113" x2="680.8" y2="113" stroke="#e4e4e4" stroke-width="0.6"/>
<line x1="547.3" y1="88.38" x2="680.8" y2="88.38" stroke="#e4e4e4" stroke-width="0.6"/>
<line x1="547.3" y1="63.75" x2="680.8" y2="63.75" stroke="#e4e4e4" stroke-width="0.6"/>
<line x1="547.3" y1="39.12" x2="680.8" y2="39.12" stroke="#e4e4e4" stroke-width="0.6"/>
<line x1="547.3" y1="14.5" x2="680.8" y2="14.5" stroke="#e4e4e4" stroke-width="0.6"/>
<path d="M547.3 14.5V113H680.8" fill="none" stroke="#666" stroke-width="0.7"/>
<line x1="547.3" y1="113" x2="547.3" y2="111.7" stroke="#666" stroke-width="0.6"/>
<line x1="569.55" y1="113" x2="569.55" y2="111.7" stroke="#666" stroke-width="0.6"/>
<line x1="591.8" y1="113" x2="591.8" y2="111.7" stroke="#666" stroke-width="0.6"/>
<line x1="614.05" y1="113" x2="614.05" y2="111.7" stroke="#666" stroke-width="0.6"/>
<line x1="636.3" y1="113" x2="636.3" y2="111.7" stroke="#666" stroke-width="0.6"/>
<line x1="658.55" y1="113" x2="658.55" y2="111.7" stroke="#666" stroke-width="0.6"/>
<line x1="680.8" y1="113" x2="680.8" y2="111.7" stroke="#666" stroke-width="0.6"/>
<line x1="547.3" y1="113" x2="548.6" y2="113" stroke="#666" stroke-width="0.6"/>
<line x1="547.3" y1="88.38" x2="548.6" y2="88.38" stroke="#666" stroke-width="0.6"/>
<line x1="547.3" y1="63.75" x2="548.6" y2="63.75" stroke="#666" stroke-width="0.6"/>
<line x1="547.3" y1="39.12" x2="548.6" y2="39.12" stroke="#666" stroke-width="0.6"/>
<line x1="547.3" y1="14.5" x2="548.6" y2="14.5" stroke="#666" stroke-width="0.6"/>
<path d="M547.3 80.24 L548 80.98 L548.69 81.7 L549.39 82.4 L550.08 83.09 L550.78 83.76 L551.47 84.41 L552.17 85.05 L552.86 85.68 L553.56 86.31 L554.25 86.92 L554.95 87.52 L555.64 88.12 L556.34 88.71 L557.03 89.3 L557.73 89.89 L558.42 90.48 L559.12 91.07 L559.82 91.66 L560.51 92.25 L561.21 92.85 L561.9 93.46 L562.6 94.07 L563.29 94.69 L563.99 95.32 L564.68 95.96 L565.38 96.6 L566.07 97.25 L566.77 97.88 L567.46 98.49 L568.16 99.07 L568.85 99.62 L569.55 100.13 L570.25 100.6 L570.94 101 L571.64 101.34 L572.33 101.62 L573.03 101.81 L573.72 101.91 L574.42 101.93 L575.11 101.84 L575.81 101.64 L576.5 101.32 L577.2 100.89 L577.89 100.32 L578.59 99.61 L579.28 98.76 L579.98 97.75 L580.67 96.58 L581.37 95.24 L582.07 93.75 L582.76 92.11 L583.46 90.33 L584.15 88.43 L584.85 86.41 L585.54 84.29 L586.24 82.07 L586.93 79.77 L587.63 77.4 L588.32 74.97 L589.02 72.49 L589.71 69.97 L590.41 67.42 L591.1 64.85 L591.8 62.28 L592.5 59.71 L593.19 57.16 L593.89 54.64 L594.58 52.18 L595.28 49.79 L595.97 47.48 L596.67 45.26 L597.36 43.17 L598.06 41.2 L598.75 39.36 L599.45 37.65 L600.14 36.06 L600.84 34.58 L601.53 33.22 L602.23 31.98 L602.92 30.84 L603.62 29.8 L604.32 28.87 L605.01 28.04 L605.71 27.3 L606.4 26.66 L607.1 26.1 L607.79 25.62 L608.49 25.23 L609.18 24.92 L609.88 24.68 L610.57 24.52 L611.27 24.42 L611.96 24.39 L612.66 24.42 L613.35 24.5 L614.05 24.65 L614.75 24.85 L615.44 25.1 L616.14 25.39 L616.83 25.73 L617.53 26.12 L618.22 26.54 L618.92 27 L619.61 27.5 L620.31 28.02 L621 28.57 L621.7 29.15 L622.39 29.75 L623.09 30.37 L623.78 31.01 L624.48 31.66 L625.17 32.33 L625.87 33 L626.57 33.68 L627.26 34.36 L627.96 35.04 L628.65 35.71 L629.35 36.39 L630.04 37.05 L630.74 37.7 L631.43 38.34 L632.13 38.97 L632.82 39.58 L633.52 40.18 L634.21 40.77 L634.91 41.35 L635.6 41.91 L636.3 42.47 L637 43.01 L637.69 43.54 L638.39 44.06 L639.08 44.57 L639.78 45.07 L640.47 45.56 L641.17 46.04 L641.86 46.52 L642.56 46.98 L643.25 47.44 L643.95 47.89 L644.64 48.34 L645.34 48.77 L646.03 49.2 L646.73 49.63 L647.42 50.05 L648.12 50.46 L648.82 50.87 L649.51 51.27 L650.21 51.68 L650.9 52.08 L651.6 52.47 L652.29 52.87 L652.99 53.27 L653.68 53.67 L654.38 54.07 L655.07 54.48 L655.77 54.89 L656.46 55.3 L657.16 55.72 L657.85 56.14 L658.55 56.57 L659.25 57.01 L659.94 57.46 L660.64 57.91 L661.33 58.38 L662.03 58.86 L662.72 59.35 L663.42 59.85 L664.11 60.36 L664.81 60.89 L665.5 61.44 L666.2 62 L666.89 62.57 L667.59 63.17 L668.28 63.78 L668.98 64.42 L669.67 65.07 L670.37 65.74 L671.07 66.44 L671.76 67.15 L672.46 67.89 L673.15 68.66 L673.85 69.45 L674.54 70.26 L675.24 71.1 L675.93 71.97 L676.63 72.87 L677.32 73.79 L678.02 74.75 L678.71 75.74 L679.41 76.75 L680.1 77.8 L680.8 78.89" fill="none" stroke="#808080" stroke-width="2.35" stroke-linejoin="round"/>
<path d="M547.3 80.34 L548 81.11 L548.69 81.87 L549.39 82.61 L550.08 83.33 L550.78 84.04 L551.47 84.74 L552.17 85.42 L552.86 86.08 L553.56 86.74 L554.25 87.38 L554.95 88.01 L555.64 88.63 L556.34 89.24 L557.03 89.85 L557.73 90.44 L558.42 91.03 L559.12 91.61 L559.82 92.18 L560.51 92.75 L561.21 93.31 L561.9 93.87 L562.6 94.43 L563.29 94.98 L563.99 95.54 L564.68 96.08 L565.38 96.63 L566.07 97.16 L566.77 97.68 L567.46 98.18 L568.16 98.65 L568.85 99.09 L569.55 99.5 L570.25 99.87 L570.94 100.2 L571.64 100.47 L572.33 100.7 L573.03 100.86 L573.72 100.97 L574.42 101 L575.11 100.97 L575.81 100.85 L576.5 100.65 L577.2 100.35 L577.89 99.94 L578.59 99.41 L579.28 98.74 L579.98 97.94 L580.67 96.97 L581.37 95.85 L582.07 94.57 L582.76 93.14 L583.46 91.57 L584.15 89.87 L584.85 88.05 L585.54 86.11 L586.24 84.08 L586.93 81.94 L587.63 79.72 L588.32 77.42 L589.02 75.06 L589.71 72.63 L590.41 70.15 L591.1 67.63 L591.8 65.08 L592.5 62.5 L593.19 59.91 L593.89 57.34 L594.58 54.8 L595.28 52.32 L595.97 49.91 L596.67 47.58 L597.36 45.37 L598.06 43.28 L598.75 41.33 L599.45 39.49 L600.14 37.77 L600.84 36.18 L601.53 34.69 L602.23 33.32 L602.92 32.06 L603.62 30.91 L604.32 29.85 L605.01 28.9 L605.71 28.04 L606.4 27.28 L607.1 26.61 L607.79 26.03 L608.49 25.53 L609.18 25.11 L609.88 24.78 L610.57 24.51 L611.27 24.33 L611.96 24.21 L612.66 24.16 L613.35 24.17 L614.05 24.25 L614.75 24.38 L615.44 24.57 L616.14 24.81 L616.83 25.1 L617.53 25.43 L618.22 25.81 L618.92 26.23 L619.61 26.69 L620.31 27.18 L621 27.7 L621.7 28.24 L622.39 28.82 L623.09 29.41 L623.78 30.03 L624.48 30.65 L625.17 31.3 L625.87 31.95 L626.57 32.61 L627.26 33.27 L627.96 33.93 L628.65 34.59 L629.35 35.24 L630.04 35.89 L630.74 36.52 L631.43 37.14 L632.13 37.75 L632.82 38.34 L633.52 38.92 L634.21 39.49 L634.91 40.04 L635.6 40.58 L636.3 41.11 L637 41.63 L637.69 42.14 L638.39 42.63 L639.08 43.12 L639.78 43.6 L640.47 44.07 L641.17 44.53 L641.86 44.98 L642.56 45.42 L643.25 45.86 L643.95 46.29 L644.64 46.71 L645.34 47.13 L646.03 47.54 L646.73 47.95 L647.42 48.35 L648.12 48.75 L648.82 49.14 L649.51 49.53 L650.21 49.92 L650.9 50.31 L651.6 50.7 L652.29 51.1 L652.99 51.49 L653.68 51.9 L654.38 52.3 L655.07 52.72 L655.77 53.14 L656.46 53.57 L657.16 54.02 L657.85 54.47 L658.55 54.94 L659.25 55.42 L659.94 55.91 L660.64 56.42 L661.33 56.95 L662.03 57.5 L662.72 58.06 L663.42 58.65 L664.11 59.26 L664.81 59.89 L665.5 60.54 L666.2 61.21 L666.89 61.91 L667.59 62.62 L668.28 63.35 L668.98 64.1 L669.67 64.87 L670.37 65.65 L671.07 66.45 L671.76 67.26 L672.46 68.09 L673.15 68.93 L673.85 69.78 L674.54 70.64 L675.24 71.51 L675.93 72.4 L676.63 73.29 L677.32 74.19 L678.02 75.09 L678.71 76.01 L679.41 76.93 L680.1 77.85 L680.8 78.78" fill="none" stroke="#0000ff" stroke-width="2.35" stroke-linejoin="round"/>
<path d="M547.3 80.13 L548 80.98 L548.69 81.82 L549.39 82.64 L550.08 83.45 L550.78 84.24 L551.47 85.02 L552.17 85.78 L552.86 86.53 L553.56 87.27 L554.25 87.99 L554.95 88.7 L555.64 89.4 L556.34 90.08 L557.03 90.76 L557.73 91.42 L558.42 92.07 L559.12 92.71 L559.82 93.34 L560.51 93.96 L561.21 94.57 L561.9 95.16 L562.6 95.75 L563.29 96.34 L563.99 96.91 L564.68 97.47 L565.38 98.02 L566.07 98.55 L566.77 99.06 L567.46 99.53 L568.16 99.97 L568.85 100.37 L569.55 100.72 L570.25 101.02 L570.94 101.26 L571.64 101.44 L572.33 101.55 L573.03 101.58 L573.72 101.53 L574.42 101.4 L575.11 101.17 L575.81 100.84 L576.5 100.39 L577.2 99.82 L577.89 99.11 L578.59 98.26 L579.28 97.26 L579.98 96.1 L580.67 94.77 L581.37 93.26 L582.07 91.59 L582.76 89.76 L583.46 87.8 L584.15 85.71 L584.85 83.51 L585.54 81.21 L586.24 78.82 L586.93 76.36 L587.63 73.85 L588.32 71.29 L589.02 68.69 L589.71 66.08 L590.41 63.47 L591.1 60.86 L591.8 58.27 L592.5 55.72 L593.19 53.22 L593.89 50.79 L594.58 48.42 L595.28 46.15 L595.97 43.98 L596.67 41.93 L597.36 40 L598.06 38.22 L598.75 36.57 L599.45 35.06 L600.14 33.68 L600.84 32.42 L601.53 31.28 L602.23 30.26 L602.92 29.34 L603.62 28.53 L604.32 27.82 L605.01 27.21 L605.71 26.69 L606.4 26.26 L607.1 25.9 L607.79 25.63 L608.49 25.43 L609.18 25.29 L609.88 25.22 L610.57 25.2 L611.27 25.24 L611.96 25.33 L612.66 25.47 L613.35 25.64 L614.05 25.86 L614.75 26.12 L615.44 26.41 L616.14 26.74 L616.83 27.1 L617.53 27.49 L618.22 27.91 L618.92 28.35 L619.61 28.82 L620.31 29.32 L621 29.83 L621.7 30.37 L622.39 30.92 L623.09 31.48 L623.78 32.06 L624.48 32.65 L625.17 33.25 L625.87 33.86 L626.57 34.47 L627.26 35.08 L627.96 35.7 L628.65 36.31 L629.35 36.92 L630.04 37.53 L630.74 38.12 L631.43 38.71 L632.13 39.3 L632.82 39.87 L633.52 40.43 L634.21 40.98 L634.91 41.53 L635.6 42.06 L636.3 42.59 L637 43.1 L637.69 43.61 L638.39 44.11 L639.08 44.6 L639.78 45.07 L640.47 45.54 L641.17 46 L641.86 46.45 L642.56 46.89 L643.25 47.32 L643.95 47.73 L644.64 48.14 L645.34 48.54 L646.03 48.93 L646.73 49.31 L647.42 49.67 L648.12 50.03 L648.82 50.38 L649.51 50.72 L650.21 51.06 L650.9 51.39 L651.6 51.72 L652.29 52.05 L652.99 52.38 L653.68 52.72 L654.38 53.06 L655.07 53.41 L655.77 53.76 L656.46 54.13 L657.16 54.5 L657.85 54.89 L658.55 55.3 L659.25 55.72 L659.94 56.16 L660.64 56.62 L661.33 57.11 L662.03 57.61 L662.72 58.15 L663.42 58.7 L664.11 59.29 L664.81 59.91 L665.5 60.56 L666.2 61.23 L666.89 61.93 L667.59 62.65 L668.28 63.4 L668.98 64.16 L669.67 64.94 L670.37 65.74 L671.07 66.55 L671.76 67.38 L672.46 68.22 L673.15 69.06 L673.85 69.92 L674.54 70.78 L675.24 71.64 L675.93 72.51 L676.63 73.38 L677.32 74.24 L678.02 75.11 L678.71 75.97 L679.41 76.82 L680.1 77.66 L680.8 78.5" fill="none" stroke="#00b000" stroke-width="2.35" stroke-linejoin="round"/>
<line x1="632.5" y1="23.85" x2="649.3" y2="23.85" stroke="#808080" stroke-width="2"/>
<text x="650.9" y="26.25" font-size="6.4" fill="#4a4a4a">Both</text>
<line x1="632.5" y1="33.05" x2="649.3" y2="33.05" stroke="#0000ff" stroke-width="2"/>
<text x="650.9" y="35.45" font-size="6.4" fill="#4a4a4a">Center 1</text>
<line x1="632.5" y1="42.25" x2="649.3" y2="42.25" stroke="#00b000" stroke-width="2"/>
<text x="650.9" y="44.65" font-size="6.4" fill="#4a4a4a">Center 2</text>
<text x="547.3" y="123.9" font-size="6.8" fill="#4a4a4a" text-anchor="middle">0</text>
<text x="569.55" y="123.9" font-size="6.8" fill="#4a4a4a" text-anchor="middle">4</text>
<text x="591.8" y="123.9" font-size="6.8" fill="#4a4a4a" text-anchor="middle">8</text>
<text x="614.05" y="123.9" font-size="6.8" fill="#4a4a4a" text-anchor="middle">12</text>
<text x="636.3" y="123.9" font-size="6.8" fill="#4a4a4a" text-anchor="middle">16</text>
<text x="658.55" y="123.9" font-size="6.8" fill="#4a4a4a" text-anchor="middle">20</text>
<text x="680.8" y="123.9" font-size="6.8" fill="#4a4a4a" text-anchor="middle">24</text>
<text x="543.6" y="115.8" font-size="6.8" fill="#4a4a4a" text-anchor="end">0</text>
<text x="543.6" y="91.17" font-size="6.8" fill="#4a4a4a" text-anchor="end">2</text>
<text x="543.6" y="66.55" font-size="6.8" fill="#4a4a4a" text-anchor="end">4</text>
<text x="543.6" y="41.92" font-size="6.8" fill="#4a4a4a" text-anchor="end">6</text>
<text x="543.6" y="17.3" font-size="6.8" fill="#4a4a4a" text-anchor="end">8</text>
<text x="614.05" y="136" font-size="8.5" fill="#4a4a4a" text-anchor="middle">scan time in hours</text>
<text transform="translate(536.8 64.15) rotate(-90)" font-size="8.5" fill="#4a4a4a" text-anchor="middle">frequency (%)</text>
<text x="614.65" y="9.9" font-size="8.3" font-weight="bold" fill="#000" text-anchor="middle">Predictions</text>
<text transform="translate(536.1 7.5) scale(1.07 1)" font-size="9.3" font-weight="bold" fill="#000" stroke="#000" stroke-width="0.3">D)</text>
</g>
<g>
<line x1="17.25" y1="152.35" x2="17.25" y2="250.4" stroke="#e4e4e4" stroke-width="0.6"/>
<line x1="39.5" y1="152.35" x2="39.5" y2="250.4" stroke="#e4e4e4" stroke-width="0.6"/>
<line x1="61.75" y1="152.35" x2="61.75" y2="250.4" stroke="#e4e4e4" stroke-width="0.6"/>
<line x1="84" y1="152.35" x2="84" y2="250.4" stroke="#e4e4e4" stroke-width="0.6"/>
<line x1="106.25" y1="152.35" x2="106.25" y2="250.4" stroke="#e4e4e4" stroke-width="0.6"/>
<line x1="128.5" y1="152.35" x2="128.5" y2="250.4" stroke="#e4e4e4" stroke-width="0.6"/>
<line x1="150.75" y1="152.35" x2="150.75" y2="250.4" stroke="#e4e4e4" stroke-width="0.6"/>
<line x1="17.25" y1="250.4" x2="150.75" y2="250.4" stroke="#e4e4e4" stroke-width="0.6"/>
<line x1="17.25" y1="223.9" x2="150.75" y2="223.9" stroke="#e4e4e4" stroke-width="0.6"/>
<line x1="17.25" y1="197.4" x2="150.75" y2="197.4" stroke="#e4e4e4" stroke-width="0.6"/>
<line x1="17.25" y1="170.9" x2="150.75" y2="170.9" stroke="#e4e4e4" stroke-width="0.6"/>
<rect x="17.5" y="215.95" width="5.26" height="34.45" fill="#858585" stroke="#1c1c1c" stroke-width="0.55"/>
<rect x="22.86" y="226.15" width="5.04" height="24.25" fill="#858585" stroke="#1c1c1c" stroke-width="0.55"/>
<rect x="29.1" y="226.55" width="4.79" height="23.85" fill="#858585" stroke="#1c1c1c" stroke-width="0.55"/>
<rect x="33.99" y="233.31" width="4.91" height="17.09" fill="#858585" stroke="#1c1c1c" stroke-width="0.55"/>
<rect x="40.1" y="230.66" width="4.91" height="19.74" fill="#858585" stroke="#1c1c1c" stroke-width="0.55"/>
<rect x="45.11" y="229.07" width="4.79" height="21.33" fill="#858585" stroke="#1c1c1c" stroke-width="0.55"/>
<rect x="51.1" y="233.71" width="5.04" height="16.7" fill="#858585" stroke="#1c1c1c" stroke-width="0.55"/>
<rect x="56.24" y="224.16" width="4.66" height="26.24" fill="#858585" stroke="#1c1c1c" stroke-width="0.55"/>
<rect x="62.1" y="205.09" width="5.16" height="45.32" fill="#858585" stroke="#1c1c1c" stroke-width="0.55"/>
<rect x="67.36" y="176.07" width="4.54" height="74.33" fill="#858585" stroke="#1c1c1c" stroke-width="0.55"/>
<rect x="73.1" y="177.52" width="5.29" height="72.88" fill="#858585" stroke="#1c1c1c" stroke-width="0.55"/>
<rect x="78.49" y="161.09" width="5.46" height="89.31" fill="#858585" stroke="#1c1c1c" stroke-width="0.55"/>
<rect x="84.05" y="166.26" width="5.46" height="84.14" fill="#858585" stroke="#1c1c1c" stroke-width="0.55"/>
<rect x="89.61" y="156.46" width="5.29" height="93.94" fill="#858585" stroke="#1c1c1c" stroke-width="0.55"/>
<rect x="96.1" y="166.66" width="4.54" height="83.74" fill="#858585" stroke="#1c1c1c" stroke-width="0.55"/>
<rect x="100.74" y="167.32" width="5.16" height="83.08" fill="#858585" stroke="#1c1c1c" stroke-width="0.55"/>
<rect x="107.1" y="168.65" width="4.66" height="81.75" fill="#858585" stroke="#1c1c1c" stroke-width="0.55"/>
<rect x="111.86" y="185.21" width="5.04" height="65.19" fill="#858585" stroke="#1c1c1c" stroke-width="0.55"/>
<rect x="118.1" y="181.24" width="4.79" height="69.17" fill="#858585" stroke="#1c1c1c" stroke-width="0.55"/>
<rect x="122.99" y="175.4" width="4.91" height="75" fill="#858585" stroke="#1c1c1c" stroke-width="0.55"/>
<rect x="129.1" y="182.16" width="4.91" height="68.24" fill="#858585" stroke="#1c1c1c" stroke-width="0.55"/>
<rect x="134.11" y="193.16" width="4.79" height="57.24" fill="#858585" stroke="#1c1c1c" stroke-width="0.55"/>
<rect x="140.1" y="199.92" width="5.04" height="50.48" fill="#858585" stroke="#1c1c1c" stroke-width="0.55"/>
<rect x="145.24" y="210.25" width="5.26" height="40.15" fill="#858585" stroke="#1c1c1c" stroke-width="0.55"/>
<rect x="17.25" y="152.35" width="133.5" height="98.05" fill="none" stroke="#666" stroke-width="0.7"/>
<line x1="17.25" y1="250.4" x2="17.25" y2="249.1" stroke="#666" stroke-width="0.6"/>
<line x1="17.25" y1="152.35" x2="17.25" y2="153.65" stroke="#666" stroke-width="0.6"/>
<line x1="39.5" y1="250.4" x2="39.5" y2="249.1" stroke="#666" stroke-width="0.6"/>
<line x1="39.5" y1="152.35" x2="39.5" y2="153.65" stroke="#666" stroke-width="0.6"/>
<line x1="61.75" y1="250.4" x2="61.75" y2="249.1" stroke="#666" stroke-width="0.6"/>
<line x1="61.75" y1="152.35" x2="61.75" y2="153.65" stroke="#666" stroke-width="0.6"/>
<line x1="84" y1="250.4" x2="84" y2="249.1" stroke="#666" stroke-width="0.6"/>
<line x1="84" y1="152.35" x2="84" y2="153.65" stroke="#666" stroke-width="0.6"/>
<line x1="106.25" y1="250.4" x2="106.25" y2="249.1" stroke="#666" stroke-width="0.6"/>
<line x1="106.25" y1="152.35" x2="106.25" y2="153.65" stroke="#666" stroke-width="0.6"/>
<line x1="128.5" y1="250.4" x2="128.5" y2="249.1" stroke="#666" stroke-width="0.6"/>
<line x1="128.5" y1="152.35" x2="128.5" y2="153.65" stroke="#666" stroke-width="0.6"/>
<line x1="150.75" y1="250.4" x2="150.75" y2="249.1" stroke="#666" stroke-width="0.6"/>
<line x1="150.75" y1="152.35" x2="150.75" y2="153.65" stroke="#666" stroke-width="0.6"/>
<line x1="17.25" y1="250.4" x2="18.55" y2="250.4" stroke="#666" stroke-width="0.6"/>
<line x1="150.75" y1="250.4" x2="149.45" y2="250.4" stroke="#666" stroke-width="0.6"/>
<line x1="17.25" y1="223.9" x2="18.55" y2="223.9" stroke="#666" stroke-width="0.6"/>
<line x1="150.75" y1="223.9" x2="149.45" y2="223.9" stroke="#666" stroke-width="0.6"/>
<line x1="17.25" y1="197.4" x2="18.55" y2="197.4" stroke="#666" stroke-width="0.6"/>
<line x1="150.75" y1="197.4" x2="149.45" y2="197.4" stroke="#666" stroke-width="0.6"/>
<line x1="17.25" y1="170.9" x2="18.55" y2="170.9" stroke="#666" stroke-width="0.6"/>
<line x1="150.75" y1="170.9" x2="149.45" y2="170.9" stroke="#666" stroke-width="0.6"/>
<path d="M17.25 212.04 L17.95 212.59 L18.64 213.17 L19.34 213.79 L20.03 214.43 L20.73 215.11 L21.42 215.81 L22.12 216.53 L22.81 217.27 L23.51 218.03 L24.2 218.8 L24.9 219.59 L25.59 220.38 L26.29 221.18 L26.98 221.99 L27.68 222.8 L28.38 223.61 L29.07 224.42 L29.77 225.22 L30.46 226.01 L31.16 226.79 L31.85 227.56 L32.55 228.31 L33.24 229.05 L33.94 229.76 L34.63 230.46 L35.33 231.12 L36.02 231.76 L36.72 232.37 L37.41 232.94 L38.11 233.48 L38.8 233.98 L39.5 234.44 L40.2 234.86 L40.89 235.23 L41.59 235.56 L42.28 235.83 L42.98 236.05 L43.67 236.21 L44.37 236.31 L45.06 236.36 L45.76 236.34 L46.45 236.25 L47.15 236.1 L47.84 235.87 L48.54 235.56 L49.23 235.16 L49.93 234.68 L50.62 234.1 L51.32 233.42 L52.02 232.63 L52.71 231.73 L53.41 230.72 L54.1 229.59 L54.8 228.33 L55.49 226.94 L56.19 225.41 L56.88 223.75 L57.58 221.95 L58.27 220.04 L58.97 218.03 L59.66 215.94 L60.36 213.77 L61.05 211.53 L61.75 209.25 L62.45 206.94 L63.14 204.6 L63.84 202.26 L64.53 199.93 L65.23 197.61 L65.92 195.33 L66.62 193.09 L67.31 190.91 L68.01 188.81 L68.7 186.77 L69.4 184.81 L70.09 182.93 L70.79 181.12 L71.48 179.38 L72.18 177.72 L72.88 176.14 L73.57 174.63 L74.27 173.2 L74.96 171.85 L75.66 170.57 L76.35 169.37 L77.05 168.25 L77.74 167.21 L78.44 166.24 L79.13 165.35 L79.83 164.55 L80.52 163.81 L81.22 163.15 L81.91 162.56 L82.61 162.03 L83.3 161.58 L84 161.18 L84.7 160.85 L85.39 160.58 L86.09 160.36 L86.78 160.21 L87.48 160.1 L88.17 160.04 L88.87 160.04 L89.56 160.08 L90.26 160.16 L90.95 160.29 L91.65 160.46 L92.34 160.67 L93.04 160.91 L93.73 161.18 L94.43 161.49 L95.12 161.83 L95.82 162.19 L96.52 162.58 L97.21 162.99 L97.91 163.43 L98.6 163.88 L99.3 164.35 L99.99 164.83 L100.69 165.32 L101.38 165.83 L102.08 166.34 L102.77 166.86 L103.47 167.38 L104.16 167.91 L104.86 168.43 L105.55 168.95 L106.25 169.47 L106.95 169.98 L107.64 170.48 L108.34 170.97 L109.03 171.46 L109.73 171.95 L110.42 172.43 L111.12 172.91 L111.81 173.38 L112.51 173.85 L113.2 174.32 L113.9 174.79 L114.59 175.25 L115.29 175.72 L115.98 176.18 L116.68 176.65 L117.38 177.11 L118.07 177.58 L118.77 178.05 L119.46 178.52 L120.16 179 L120.85 179.47 L121.55 179.95 L122.24 180.44 L122.94 180.93 L123.63 181.43 L124.33 181.93 L125.02 182.44 L125.72 182.96 L126.41 183.48 L127.11 184.02 L127.8 184.56 L128.5 185.11 L129.2 185.67 L129.89 186.24 L130.59 186.82 L131.28 187.41 L131.98 188.02 L132.67 188.64 L133.37 189.27 L134.06 189.91 L134.76 190.57 L135.45 191.24 L136.15 191.93 L136.84 192.63 L137.54 193.35 L138.23 194.09 L138.93 194.84 L139.62 195.61 L140.32 196.4 L141.02 197.21 L141.71 198.04 L142.41 198.89 L143.1 199.76 L143.8 200.64 L144.49 201.56 L145.19 202.49 L145.88 203.44 L146.58 204.42 L147.27 205.42 L147.97 206.45 L148.66 207.5 L149.36 208.57 L150.05 209.68 L150.75 210.8" fill="none" stroke="#ff0000" stroke-width="2.35" stroke-linejoin="round"/>
<text x="17.25" y="261.3" font-size="6.8" fill="#4a4a4a" text-anchor="middle">0</text>
<text x="39.5" y="261.3" font-size="6.8" fill="#4a4a4a" text-anchor="middle">4</text>
<text x="61.75" y="261.3" font-size="6.8" fill="#4a4a4a" text-anchor="middle">8</text>
<text x="84" y="261.3" font-size="6.8" fill="#4a4a4a" text-anchor="middle">12</text>
<text x="106.25" y="261.3" font-size="6.8" fill="#4a4a4a" text-anchor="middle">16</text>
<text x="128.5" y="261.3" font-size="6.8" fill="#4a4a4a" text-anchor="middle">20</text>
<text x="150.75" y="261.3" font-size="6.8" fill="#4a4a4a" text-anchor="middle">24</text>
<text x="13.55" y="253.2" font-size="6.8" fill="#4a4a4a" text-anchor="end">0</text>
<text x="13.55" y="226.7" font-size="6.8" fill="#4a4a4a" text-anchor="end">2</text>
<text x="13.55" y="200.2" font-size="6.8" fill="#4a4a4a" text-anchor="end">4</text>
<text x="13.55" y="173.7" font-size="6.8" fill="#4a4a4a" text-anchor="end">6</text>
<text x="84" y="273.4" font-size="8.5" fill="#4a4a4a" text-anchor="middle">scan time in hours</text>
<text transform="translate(6.75 201.78) rotate(-90)" font-size="8.5" fill="#4a4a4a" text-anchor="middle">frequency (%)</text>
<text x="84" y="147.75" font-size="8.3" font-weight="bold" fill="#000" text-anchor="middle">NVO</text>
<text transform="translate(6.05 144.95) scale(1.07 1)" font-size="9.3" font-weight="bold" fill="#000" stroke="#000" stroke-width="0.3">E)</text>
</g>
<g>
<line x1="193.72" y1="152.35" x2="193.72" y2="250.4" stroke="#e4e4e4" stroke-width="0.6"/>
<line x1="216.02" y1="152.35" x2="216.02" y2="250.4" stroke="#e4e4e4" stroke-width="0.6"/>
<line x1="238.32" y1="152.35" x2="238.32" y2="250.4" stroke="#e4e4e4" stroke-width="0.6"/>
<line x1="260.62" y1="152.35" x2="260.62" y2="250.4" stroke="#e4e4e4" stroke-width="0.6"/>
<line x1="282.92" y1="152.35" x2="282.92" y2="250.4" stroke="#e4e4e4" stroke-width="0.6"/>
<line x1="305.22" y1="152.35" x2="305.22" y2="250.4" stroke="#e4e4e4" stroke-width="0.6"/>
<line x1="327.52" y1="152.35" x2="327.52" y2="250.4" stroke="#e4e4e4" stroke-width="0.6"/>
<line x1="193.72" y1="250.4" x2="327.52" y2="250.4" stroke="#e4e4e4" stroke-width="0.6"/>
<line x1="193.72" y1="232.24" x2="327.52" y2="232.24" stroke="#e4e4e4" stroke-width="0.6"/>
<line x1="193.72" y1="214.09" x2="327.52" y2="214.09" stroke="#e4e4e4" stroke-width="0.6"/>
<line x1="193.72" y1="195.93" x2="327.52" y2="195.93" stroke="#e4e4e4" stroke-width="0.6"/>
<line x1="193.72" y1="177.77" x2="327.52" y2="177.77" stroke="#e4e4e4" stroke-width="0.6"/>
<line x1="193.72" y1="159.61" x2="327.52" y2="159.61" stroke="#e4e4e4" stroke-width="0.6"/>
<rect x="193.97" y="226.25" width="5.27" height="24.15" fill="#858585" stroke="#1c1c1c" stroke-width="0.55"/>
<rect x="199.34" y="236.51" width="4.56" height="13.89" fill="#858585" stroke="#1c1c1c" stroke-width="0.55"/>
<rect x="205.1" y="242.05" width="5.29" height="8.35" fill="#858585" stroke="#1c1c1c" stroke-width="0.55"/>
<rect x="210.5" y="242.05" width="5.41" height="8.35" fill="#858585" stroke="#1c1c1c" stroke-width="0.55"/>
<rect x="217.1" y="232.79" width="4.44" height="17.61" fill="#858585" stroke="#1c1c1c" stroke-width="0.55"/>
<rect x="221.65" y="244.04" width="5.47" height="6.36" fill="#858585" stroke="#1c1c1c" stroke-width="0.55"/>
<rect x="227.22" y="230.43" width="4.68" height="19.97" fill="#858585" stroke="#1c1c1c" stroke-width="0.55"/>
<rect x="233.1" y="229.16" width="5.17" height="21.24" fill="#858585" stroke="#1c1c1c" stroke-width="0.55"/>
<rect x="238.37" y="222.17" width="5.47" height="28.23" fill="#858585" stroke="#1c1c1c" stroke-width="0.55"/>
<rect x="243.95" y="191.48" width="4.95" height="58.92" fill="#858585" stroke="#1c1c1c" stroke-width="0.55"/>
<rect x="250.1" y="156.53" width="4.9" height="93.87" fill="#858585" stroke="#1c1c1c" stroke-width="0.55"/>
<rect x="255.1" y="193.57" width="5.47" height="56.83" fill="#858585" stroke="#1c1c1c" stroke-width="0.55"/>
<rect x="260.67" y="176.59" width="5.23" height="73.81" fill="#858585" stroke="#1c1c1c" stroke-width="0.55"/>
<rect x="267.1" y="180.68" width="4.62" height="69.72" fill="#858585" stroke="#1c1c1c" stroke-width="0.55"/>
<rect x="271.82" y="198.47" width="5.08" height="51.93" fill="#858585" stroke="#1c1c1c" stroke-width="0.55"/>
<rect x="278.1" y="183.13" width="4.77" height="67.27" fill="#858585" stroke="#1c1c1c" stroke-width="0.55"/>
<rect x="282.97" y="204.55" width="4.93" height="45.85" fill="#858585" stroke="#1c1c1c" stroke-width="0.55"/>
<rect x="289.1" y="213.36" width="4.8" height="37.04" fill="#858585" stroke="#1c1c1c" stroke-width="0.55"/>
<rect x="295.1" y="209.27" width="4.49" height="41.13" fill="#858585" stroke="#1c1c1c" stroke-width="0.55"/>
<rect x="299.69" y="222.17" width="5.2" height="28.23" fill="#858585" stroke="#1c1c1c" stroke-width="0.55"/>
<rect x="306.1" y="204.55" width="4.64" height="45.85" fill="#858585" stroke="#1c1c1c" stroke-width="0.55"/>
<rect x="310.85" y="204.55" width="5.05" height="45.85" fill="#858585" stroke="#1c1c1c" stroke-width="0.55"/>
<rect x="317.1" y="220.44" width="4.79" height="29.96" fill="#858585" stroke="#1c1c1c" stroke-width="0.55"/>
<rect x="322" y="239.23" width="5.27" height="11.17" fill="#858585" stroke="#1c1c1c" stroke-width="0.55"/>
<rect x="193.72" y="152.35" width="133.8" height="98.05" fill="none" stroke="#666" stroke-width="0.7"/>
<line x1="193.72" y1="250.4" x2="193.72" y2="249.1" stroke="#666" stroke-width="0.6"/>
<line x1="193.72" y1="152.35" x2="193.72" y2="153.65" stroke="#666" stroke-width="0.6"/>
<line x1="216.02" y1="250.4" x2="216.02" y2="249.1" stroke="#666" stroke-width="0.6"/>
<line x1="216.02" y1="152.35" x2="216.02" y2="153.65" stroke="#666" stroke-width="0.6"/>
<line x1="238.32" y1="250.4" x2="238.32" y2="249.1" stroke="#666" stroke-width="0.6"/>
<line x1="238.32" y1="152.35" x2="238.32" y2="153.65" stroke="#666" stroke-width="0.6"/>
<line x1="260.62" y1="250.4" x2="260.62" y2="249.1" stroke="#666" stroke-width="0.6"/>
<line x1="260.62" y1="152.35" x2="260.62" y2="153.65" stroke="#666" stroke-width="0.6"/>
<line x1="282.92" y1="250.4" x2="282.92" y2="249.1" stroke="#666" stroke-width="0.6"/>
<line x1="282.92" y1="152.35" x2="282.92" y2="153.65" stroke="#666" stroke-width="0.6"/>
<line x1="305.22" y1="250.4" x2="305.22" y2="249.1" stroke="#666" stroke-width="0.6"/>
<line x1="305.22" y1="152.35" x2="305.22" y2="153.65" stroke="#666" stroke-width="0.6"/>
<line x1="327.52" y1="250.4" x2="327.52" y2="249.1" stroke="#666" stroke-width="0.6"/>
<line x1="327.52" y1="152.35" x2="327.52" y2="153.65" stroke="#666" stroke-width="0.6"/>
<line x1="193.72" y1="250.4" x2="195.02" y2="250.4" stroke="#666" stroke-width="0.6"/>
<line x1="327.52" y1="250.4" x2="326.22" y2="250.4" stroke="#666" stroke-width="0.6"/>
<line x1="193.72" y1="232.24" x2="195.02" y2="232.24" stroke="#666" stroke-width="0.6"/>
<line x1="327.52" y1="232.24" x2="326.22" y2="232.24" stroke="#666" stroke-width="0.6"/>
<line x1="193.72" y1="214.09" x2="195.02" y2="214.09" stroke="#666" stroke-width="0.6"/>
<line x1="327.52" y1="214.09" x2="326.22" y2="214.09" stroke="#666" stroke-width="0.6"/>
<line x1="193.72" y1="195.93" x2="195.02" y2="195.93" stroke="#666" stroke-width="0.6"/>
<line x1="327.52" y1="195.93" x2="326.22" y2="195.93" stroke="#666" stroke-width="0.6"/>
<line x1="193.72" y1="177.77" x2="195.02" y2="177.77" stroke="#666" stroke-width="0.6"/>
<line x1="327.52" y1="177.77" x2="326.22" y2="177.77" stroke="#666" stroke-width="0.6"/>
<line x1="193.72" y1="159.61" x2="195.02" y2="159.61" stroke="#666" stroke-width="0.6"/>
<line x1="327.52" y1="159.61" x2="326.22" y2="159.61" stroke="#666" stroke-width="0.6"/>
<path d="M193.72 229.94 L194.42 230.46 L195.11 230.98 L195.81 231.49 L196.51 231.98 L197.2 232.47 L197.9 232.95 L198.6 233.42 L199.29 233.88 L199.99 234.33 L200.69 234.77 L201.39 235.2 L202.08 235.62 L202.78 236.04 L203.48 236.44 L204.17 236.84 L204.87 237.22 L205.57 237.6 L206.26 237.97 L206.96 238.32 L207.66 238.67 L208.35 239.01 L209.05 239.34 L209.75 239.66 L210.44 239.98 L211.14 240.28 L211.84 240.57 L212.54 240.86 L213.23 241.14 L213.93 241.4 L214.63 241.66 L215.32 241.91 L216.02 242.15 L216.72 242.38 L217.41 242.6 L218.11 242.79 L218.81 242.95 L219.5 243.07 L220.2 243.15 L220.9 243.17 L221.59 243.14 L222.29 243.04 L222.99 242.87 L223.69 242.61 L224.38 242.27 L225.08 241.83 L225.78 241.29 L226.47 240.65 L227.17 239.88 L227.87 238.99 L228.56 237.99 L229.26 236.87 L229.96 235.65 L230.65 234.33 L231.35 232.91 L232.05 231.41 L232.75 229.83 L233.44 228.18 L234.14 226.45 L234.84 224.66 L235.53 222.8 L236.23 220.89 L236.93 218.92 L237.62 216.89 L238.32 214.82 L239.02 212.71 L239.71 210.56 L240.41 208.4 L241.11 206.22 L241.8 204.05 L242.5 201.9 L243.2 199.78 L243.9 197.7 L244.59 195.67 L245.29 193.71 L245.99 191.83 L246.68 190.03 L247.38 188.32 L248.08 186.73 L248.77 185.25 L249.47 183.9 L250.17 182.68 L250.86 181.6 L251.56 180.64 L252.26 179.81 L252.95 179.09 L253.65 178.48 L254.35 177.98 L255.05 177.57 L255.74 177.26 L256.44 177.04 L257.14 176.91 L257.83 176.85 L258.53 176.86 L259.23 176.94 L259.92 177.1 L260.62 177.32 L261.32 177.62 L262.01 177.98 L262.71 178.41 L263.41 178.89 L264.1 179.43 L264.8 180.02 L265.5 180.65 L266.19 181.33 L266.89 182.04 L267.59 182.78 L268.29 183.56 L268.98 184.35 L269.68 185.17 L270.38 186 L271.07 186.85 L271.77 187.7 L272.47 188.55 L273.16 189.41 L273.86 190.25 L274.56 191.09 L275.25 191.92 L275.95 192.72 L276.65 193.5 L277.35 194.26 L278.04 194.99 L278.74 195.68 L279.44 196.35 L280.13 196.99 L280.83 197.61 L281.53 198.19 L282.22 198.76 L282.92 199.3 L283.62 199.82 L284.31 200.32 L285.01 200.8 L285.71 201.26 L286.4 201.71 L287.1 202.14 L287.8 202.55 L288.5 202.95 L289.19 203.34 L289.89 203.72 L290.59 204.09 L291.28 204.45 L291.98 204.8 L292.68 205.14 L293.37 205.48 L294.07 205.82 L294.77 206.15 L295.46 206.48 L296.16 206.81 L296.86 207.14 L297.55 207.46 L298.25 207.79 L298.95 208.11 L299.64 208.44 L300.34 208.77 L301.04 209.1 L301.74 209.43 L302.43 209.76 L303.13 210.1 L303.83 210.44 L304.52 210.79 L305.22 211.14 L305.92 211.5 L306.61 211.86 L307.31 212.23 L308.01 212.61 L308.7 213 L309.4 213.39 L310.1 213.79 L310.8 214.2 L311.49 214.62 L312.19 215.05 L312.89 215.5 L313.58 215.95 L314.28 216.42 L314.98 216.89 L315.67 217.38 L316.37 217.89 L317.07 218.41 L317.76 218.94 L318.46 219.49 L319.16 220.05 L319.85 220.64 L320.55 221.23 L321.25 221.85 L321.94 222.48 L322.64 223.13 L323.34 223.8 L324.04 224.49 L324.73 225.2 L325.43 225.93 L326.13 226.68 L326.82 227.45 L327.52 228.24" fill="none" stroke="#ff0000" stroke-width="2.35" stroke-linejoin="round"/>
<text x="193.72" y="261.3" font-size="6.8" fill="#4a4a4a" text-anchor="middle">0</text>
<text x="216.02" y="261.3" font-size="6.8" fill="#4a4a4a" text-anchor="middle">4</text>
<text x="238.32" y="261.3" font-size="6.8" fill="#4a4a4a" text-anchor="middle">8</text>
<text x="260.62" y="261.3" font-size="6.8" fill="#4a4a4a" text-anchor="middle">12</text>
<text x="282.92" y="261.3" font-size="6.8" fill="#4a4a4a" text-anchor="middle">16</text>
<text x="305.22" y="261.3" font-size="6.8" fill="#4a4a4a" text-anchor="middle">20</text>
<text x="327.52" y="261.3" font-size="6.8" fill="#4a4a4a" text-anchor="middle">24</text>
<text x="190.02" y="253.2" font-size="6.8" fill="#4a4a4a" text-anchor="end">0</text>
<text x="190.02" y="235.04" font-size="6.8" fill="#4a4a4a" text-anchor="end">2</text>
<text x="190.02" y="216.89" font-size="6.8" fill="#4a4a4a" text-anchor="end">4</text>
<text x="190.02" y="198.73" font-size="6.8" fill="#4a4a4a" text-anchor="end">6</text>
<text x="190.02" y="180.57" font-size="6.8" fill="#4a4a4a" text-anchor="end">8</text>
<text x="190.02" y="162.41" font-size="6.8" fill="#4a4a4a" text-anchor="end">10</text>
<text x="260.62" y="273.4" font-size="8.5" fill="#4a4a4a" text-anchor="middle">scan time in hours</text>
<text transform="translate(180.82 201.78) rotate(-90)" font-size="8.5" fill="#4a4a4a" text-anchor="middle">frequency (%)</text>
<text x="260.62" y="147.75" font-size="8.3" font-weight="bold" fill="#000" text-anchor="middle">MVO</text>
<text transform="translate(182.52 144.95) scale(1.07 1)" font-size="9.3" font-weight="bold" fill="#000" stroke="#000" stroke-width="0.3">F)</text>
</g>
<g>
<line x1="370.55" y1="152.35" x2="370.55" y2="250.4" stroke="#e4e4e4" stroke-width="0.6"/>
<line x1="392.93" y1="152.35" x2="392.93" y2="250.4" stroke="#e4e4e4" stroke-width="0.6"/>
<line x1="415.32" y1="152.35" x2="415.32" y2="250.4" stroke="#e4e4e4" stroke-width="0.6"/>
<line x1="437.7" y1="152.35" x2="437.7" y2="250.4" stroke="#e4e4e4" stroke-width="0.6"/>
<line x1="460.08" y1="152.35" x2="460.08" y2="250.4" stroke="#e4e4e4" stroke-width="0.6"/>
<line x1="482.47" y1="152.35" x2="482.47" y2="250.4" stroke="#e4e4e4" stroke-width="0.6"/>
<line x1="504.85" y1="152.35" x2="504.85" y2="250.4" stroke="#e4e4e4" stroke-width="0.6"/>
<line x1="370.55" y1="250.4" x2="504.85" y2="250.4" stroke="#e4e4e4" stroke-width="0.6"/>
<line x1="370.55" y1="229.22" x2="504.85" y2="229.22" stroke="#e4e4e4" stroke-width="0.6"/>
<line x1="370.55" y1="208.05" x2="504.85" y2="208.05" stroke="#e4e4e4" stroke-width="0.6"/>
<line x1="370.55" y1="186.87" x2="504.85" y2="186.87" stroke="#e4e4e4" stroke-width="0.6"/>
<line x1="370.55" y1="165.69" x2="504.85" y2="165.69" stroke="#e4e4e4" stroke-width="0.6"/>
<rect x="370.8" y="226.15" width="5.3" height="24.25" fill="#858585" stroke="#1c1c1c" stroke-width="0.55"/>
<rect x="376.2" y="236.42" width="4.7" height="13.98" fill="#858585" stroke="#1c1c1c" stroke-width="0.55"/>
<rect x="382.1" y="240.98" width="5.19" height="9.42" fill="#858585" stroke="#1c1c1c" stroke-width="0.55"/>
<rect x="387.39" y="236.42" width="4.51" height="13.98" fill="#858585" stroke="#1c1c1c" stroke-width="0.55"/>
<rect x="393.1" y="239.28" width="5.38" height="11.12" fill="#858585" stroke="#1c1c1c" stroke-width="0.55"/>
<rect x="398.58" y="227" width="5.5" height="23.4" fill="#858585" stroke="#1c1c1c" stroke-width="0.55"/>
<rect x="404.18" y="232.29" width="4.72" height="18.11" fill="#858585" stroke="#1c1c1c" stroke-width="0.55"/>
<rect x="410.1" y="226.15" width="5.17" height="24.25" fill="#858585" stroke="#1c1c1c" stroke-width="0.55"/>
<rect x="415.37" y="194.28" width="5.5" height="56.12" fill="#858585" stroke="#1c1c1c" stroke-width="0.55"/>
<rect x="420.96" y="170.46" width="4.94" height="79.94" fill="#858585" stroke="#1c1c1c" stroke-width="0.55"/>
<rect x="427.1" y="156.27" width="4.95" height="94.13" fill="#858585" stroke="#1c1c1c" stroke-width="0.55"/>
<rect x="432.15" y="183.48" width="5.5" height="66.92" fill="#858585" stroke="#1c1c1c" stroke-width="0.55"/>
<rect x="437.75" y="176.28" width="5.15" height="74.12" fill="#858585" stroke="#1c1c1c" stroke-width="0.55"/>
<rect x="444.1" y="174.37" width="4.74" height="76.03" fill="#858585" stroke="#1c1c1c" stroke-width="0.55"/>
<rect x="448.94" y="184.54" width="4.96" height="65.86" fill="#858585" stroke="#1c1c1c" stroke-width="0.55"/>
<rect x="455.1" y="198.83" width="4.93" height="51.57" fill="#858585" stroke="#1c1c1c" stroke-width="0.55"/>
<rect x="460.13" y="198.83" width="4.77" height="51.57" fill="#858585" stroke="#1c1c1c" stroke-width="0.55"/>
<rect x="466.1" y="203.39" width="4.8" height="47.01" fill="#858585" stroke="#1c1c1c" stroke-width="0.55"/>
<rect x="472.1" y="198.2" width="4.72" height="52.2" fill="#858585" stroke="#1c1c1c" stroke-width="0.55"/>
<rect x="476.92" y="186.13" width="4.98" height="64.27" fill="#858585" stroke="#1c1c1c" stroke-width="0.55"/>
<rect x="483.1" y="204.98" width="4.91" height="45.42" fill="#858585" stroke="#1c1c1c" stroke-width="0.55"/>
<rect x="488.11" y="214.19" width="4.79" height="36.21" fill="#858585" stroke="#1c1c1c" stroke-width="0.55"/>
<rect x="494.1" y="223.51" width="5.1" height="26.89" fill="#858585" stroke="#1c1c1c" stroke-width="0.55"/>
<rect x="499.3" y="220.96" width="5.3" height="29.44" fill="#858585" stroke="#1c1c1c" stroke-width="0.55"/>
<rect x="370.55" y="152.35" width="134.3" height="98.05" fill="none" stroke="#666" stroke-width="0.7"/>
<line x1="370.55" y1="250.4" x2="370.55" y2="249.1" stroke="#666" stroke-width="0.6"/>
<line x1="370.55" y1="152.35" x2="370.55" y2="153.65" stroke="#666" stroke-width="0.6"/>
<line x1="392.93" y1="250.4" x2="392.93" y2="249.1" stroke="#666" stroke-width="0.6"/>
<line x1="392.93" y1="152.35" x2="392.93" y2="153.65" stroke="#666" stroke-width="0.6"/>
<line x1="415.32" y1="250.4" x2="415.32" y2="249.1" stroke="#666" stroke-width="0.6"/>
<line x1="415.32" y1="152.35" x2="415.32" y2="153.65" stroke="#666" stroke-width="0.6"/>
<line x1="437.7" y1="250.4" x2="437.7" y2="249.1" stroke="#666" stroke-width="0.6"/>
<line x1="437.7" y1="152.35" x2="437.7" y2="153.65" stroke="#666" stroke-width="0.6"/>
<line x1="460.08" y1="250.4" x2="460.08" y2="249.1" stroke="#666" stroke-width="0.6"/>
<line x1="460.08" y1="152.35" x2="460.08" y2="153.65" stroke="#666" stroke-width="0.6"/>
<line x1="482.47" y1="250.4" x2="482.47" y2="249.1" stroke="#666" stroke-width="0.6"/>
<line x1="482.47" y1="152.35" x2="482.47" y2="153.65" stroke="#666" stroke-width="0.6"/>
<line x1="504.85" y1="250.4" x2="504.85" y2="249.1" stroke="#666" stroke-width="0.6"/>
<line x1="504.85" y1="152.35" x2="504.85" y2="153.65" stroke="#666" stroke-width="0.6"/>
<line x1="370.55" y1="250.4" x2="371.85" y2="250.4" stroke="#666" stroke-width="0.6"/>
<line x1="504.85" y1="250.4" x2="503.55" y2="250.4" stroke="#666" stroke-width="0.6"/>
<line x1="370.55" y1="229.22" x2="371.85" y2="229.22" stroke="#666" stroke-width="0.6"/>
<line x1="504.85" y1="229.22" x2="503.55" y2="229.22" stroke="#666" stroke-width="0.6"/>
<line x1="370.55" y1="208.05" x2="371.85" y2="208.05" stroke="#666" stroke-width="0.6"/>
<line x1="504.85" y1="208.05" x2="503.55" y2="208.05" stroke="#666" stroke-width="0.6"/>
<line x1="370.55" y1="186.87" x2="371.85" y2="186.87" stroke="#666" stroke-width="0.6"/>
<line x1="504.85" y1="186.87" x2="503.55" y2="186.87" stroke="#666" stroke-width="0.6"/>
<line x1="370.55" y1="165.69" x2="371.85" y2="165.69" stroke="#666" stroke-width="0.6"/>
<line x1="504.85" y1="165.69" x2="503.55" y2="165.69" stroke="#666" stroke-width="0.6"/>
<path d="M370.55 226.54 L371.25 227.19 L371.95 227.81 L372.65 228.41 L373.35 228.99 L374.05 229.56 L374.75 230.11 L375.45 230.65 L376.15 231.17 L376.85 231.67 L377.54 232.17 L378.24 232.65 L378.94 233.11 L379.64 233.57 L380.34 234.01 L381.04 234.45 L381.74 234.88 L382.44 235.29 L383.14 235.71 L383.84 236.11 L384.54 236.51 L385.24 236.9 L385.94 237.29 L386.64 237.67 L387.34 238.05 L388.04 238.43 L388.74 238.8 L389.44 239.15 L390.14 239.49 L390.83 239.8 L391.53 240.08 L392.23 240.33 L392.93 240.54 L393.63 240.7 L394.33 240.81 L395.03 240.86 L395.73 240.85 L396.43 240.78 L397.13 240.63 L397.83 240.39 L398.53 240.07 L399.23 239.65 L399.93 239.12 L400.63 238.46 L401.33 237.68 L402.03 236.76 L402.73 235.68 L403.43 234.45 L404.12 233.05 L404.82 231.47 L405.52 229.72 L406.22 227.83 L406.92 225.8 L407.62 223.65 L408.32 221.4 L409.02 219.05 L409.72 216.63 L410.42 214.16 L411.12 211.63 L411.82 209.08 L412.52 206.52 L413.22 203.95 L413.92 201.4 L414.62 198.88 L415.32 196.41 L416.02 194 L416.72 191.65 L417.42 189.39 L418.11 187.21 L418.81 185.13 L419.51 183.16 L420.21 181.3 L420.91 179.57 L421.61 177.97 L422.31 176.5 L423.01 175.16 L423.71 173.95 L424.41 172.86 L425.11 171.88 L425.81 171.03 L426.51 170.29 L427.21 169.67 L427.91 169.15 L428.61 168.74 L429.31 168.43 L430.01 168.22 L430.71 168.1 L431.4 168.07 L432.1 168.13 L432.8 168.27 L433.5 168.48 L434.2 168.76 L434.9 169.11 L435.6 169.51 L436.3 169.96 L437 170.46 L437.7 171 L438.4 171.57 L439.1 172.18 L439.8 172.81 L440.5 173.47 L441.2 174.15 L441.9 174.86 L442.6 175.58 L443.3 176.33 L444 177.08 L444.69 177.85 L445.39 178.63 L446.09 179.41 L446.79 180.2 L447.49 180.99 L448.19 181.78 L448.89 182.57 L449.59 183.35 L450.29 184.13 L450.99 184.89 L451.69 185.64 L452.39 186.38 L453.09 187.1 L453.79 187.8 L454.49 188.48 L455.19 189.14 L455.89 189.77 L456.59 190.38 L457.29 190.97 L457.98 191.53 L458.68 192.08 L459.38 192.6 L460.08 193.11 L460.78 193.6 L461.48 194.07 L462.18 194.52 L462.88 194.96 L463.58 195.39 L464.28 195.8 L464.98 196.19 L465.68 196.58 L466.38 196.95 L467.08 197.31 L467.78 197.66 L468.48 198 L469.18 198.33 L469.88 198.66 L470.58 198.98 L471.28 199.29 L471.97 199.6 L472.67 199.9 L473.37 200.2 L474.07 200.49 L474.77 200.79 L475.47 201.09 L476.17 201.39 L476.87 201.69 L477.57 202 L478.27 202.31 L478.97 202.63 L479.67 202.95 L480.37 203.29 L481.07 203.64 L481.77 203.99 L482.47 204.37 L483.17 204.75 L483.87 205.15 L484.57 205.57 L485.26 206 L485.96 206.45 L486.66 206.93 L487.36 207.42 L488.06 207.94 L488.76 208.48 L489.46 209.04 L490.16 209.63 L490.86 210.23 L491.56 210.85 L492.26 211.5 L492.96 212.15 L493.66 212.83 L494.36 213.52 L495.06 214.22 L495.76 214.93 L496.46 215.66 L497.16 216.39 L497.86 217.13 L498.55 217.88 L499.25 218.64 L499.95 219.4 L500.65 220.17 L501.35 220.94 L502.05 221.7 L502.75 222.47 L503.45 223.24 L504.15 224.01 L504.85 224.78" fill="none" stroke="#ff0000" stroke-width="2.35" stroke-linejoin="round"/>
<text x="370.55" y="261.3" font-size="6.8" fill="#4a4a4a" text-anchor="middle">0</text>
<text x="392.93" y="261.3" font-size="6.8" fill="#4a4a4a" text-anchor="middle">4</text>
<text x="415.32" y="261.3" font-size="6.8" fill="#4a4a4a" text-anchor="middle">8</text>
<text x="437.7" y="261.3" font-size="6.8" fill="#4a4a4a" text-anchor="middle">12</text>
<text x="460.08" y="261.3" font-size="6.8" fill="#4a4a4a" text-anchor="middle">16</text>
<text x="482.47" y="261.3" font-size="6.8" fill="#4a4a4a" text-anchor="middle">20</text>
<text x="504.85" y="261.3" font-size="6.8" fill="#4a4a4a" text-anchor="middle">24</text>
<text x="366.85" y="253.2" font-size="6.8" fill="#4a4a4a" text-anchor="end">0</text>
<text x="366.85" y="232.02" font-size="6.8" fill="#4a4a4a" text-anchor="end">2</text>
<text x="366.85" y="210.85" font-size="6.8" fill="#4a4a4a" text-anchor="end">4</text>
<text x="366.85" y="189.67" font-size="6.8" fill="#4a4a4a" text-anchor="end">6</text>
<text x="366.85" y="168.49" font-size="6.8" fill="#4a4a4a" text-anchor="end">8</text>
<text x="437.7" y="273.4" font-size="8.5" fill="#4a4a4a" text-anchor="middle">scan time in hours</text>
<text transform="translate(360.05 201.78) rotate(-90)" font-size="8.5" fill="#4a4a4a" text-anchor="middle">frequency (%)</text>
<text x="437.7" y="147.75" font-size="8.3" font-weight="bold" fill="#000" text-anchor="middle">LVO</text>
<text transform="translate(359.35 144.95) scale(1.07 1)" font-size="9.3" font-weight="bold" fill="#000" stroke="#000" stroke-width="0.3">G)</text>
</g>
<g>
<line x1="547.3" y1="152.35" x2="547.3" y2="250.4" stroke="#e4e4e4" stroke-width="0.6"/>
<line x1="569.55" y1="152.35" x2="569.55" y2="250.4" stroke="#e4e4e4" stroke-width="0.6"/>
<line x1="591.8" y1="152.35" x2="591.8" y2="250.4" stroke="#e4e4e4" stroke-width="0.6"/>
<line x1="614.05" y1="152.35" x2="614.05" y2="250.4" stroke="#e4e4e4" stroke-width="0.6"/>
<line x1="636.3" y1="152.35" x2="636.3" y2="250.4" stroke="#e4e4e4" stroke-width="0.6"/>
<line x1="658.55" y1="152.35" x2="658.55" y2="250.4" stroke="#e4e4e4" stroke-width="0.6"/>
<line x1="680.8" y1="152.35" x2="680.8" y2="250.4" stroke="#e4e4e4" stroke-width="0.6"/>
<line x1="547.3" y1="250.4" x2="680.8" y2="250.4" stroke="#e4e4e4" stroke-width="0.6"/>
<line x1="547.3" y1="226.15" x2="680.8" y2="226.15" stroke="#e4e4e4" stroke-width="0.6"/>
<line x1="547.3" y1="201.89" x2="680.8" y2="201.89" stroke="#e4e4e4" stroke-width="0.6"/>
<line x1="547.3" y1="177.64" x2="680.8" y2="177.64" stroke="#e4e4e4" stroke-width="0.6"/>
<line x1="547.3" y1="153.38" x2="680.8" y2="153.38" stroke="#e4e4e4" stroke-width="0.6"/>
<path d="M547.3 152.35V250.4H680.8" fill="none" stroke="#666" stroke-width="0.7"/>
<line x1="547.3" y1="250.4" x2="547.3" y2="249.1" stroke="#666" stroke-width="0.6"/>
<line x1="569.55" y1="250.4" x2="569.55" y2="249.1" stroke="#666" stroke-width="0.6"/>
<line x1="591.8" y1="250.4" x2="591.8" y2="249.1" stroke="#666" stroke-width="0.6"/>
<line x1="614.05" y1="250.4" x2="614.05" y2="249.1" stroke="#666" stroke-width="0.6"/>
<line x1="636.3" y1="250.4" x2="636.3" y2="249.1" stroke="#666" stroke-width="0.6"/>
<line x1="658.55" y1="250.4" x2="658.55" y2="249.1" stroke="#666" stroke-width="0.6"/>
<line x1="680.8" y1="250.4" x2="680.8" y2="249.1" stroke="#666" stroke-width="0.6"/>
<line x1="547.3" y1="250.4" x2="548.6" y2="250.4" stroke="#666" stroke-width="0.6"/>
<line x1="547.3" y1="226.15" x2="548.6" y2="226.15" stroke="#666" stroke-width="0.6"/>
<line x1="547.3" y1="201.89" x2="548.6" y2="201.89" stroke="#666" stroke-width="0.6"/>
<line x1="547.3" y1="177.64" x2="548.6" y2="177.64" stroke="#666" stroke-width="0.6"/>
<line x1="547.3" y1="153.38" x2="548.6" y2="153.38" stroke="#666" stroke-width="0.6"/>
<path d="M547.3 215.29 L548 215.79 L548.69 216.32 L549.39 216.89 L550.08 217.48 L550.78 218.1 L551.47 218.74 L552.17 219.4 L552.86 220.08 L553.56 220.77 L554.25 221.48 L554.95 222.2 L555.64 222.92 L556.34 223.66 L557.03 224.4 L557.73 225.14 L558.42 225.88 L559.12 226.62 L559.82 227.35 L560.51 228.07 L561.21 228.79 L561.9 229.5 L562.6 230.18 L563.29 230.86 L563.99 231.51 L564.68 232.15 L565.38 232.76 L566.07 233.34 L566.77 233.9 L567.46 234.42 L568.16 234.92 L568.85 235.38 L569.55 235.8 L570.25 236.18 L570.94 236.52 L571.64 236.81 L572.33 237.06 L573.03 237.26 L573.72 237.41 L574.42 237.51 L575.11 237.55 L575.81 237.53 L576.5 237.45 L577.2 237.31 L577.89 237.1 L578.59 236.81 L579.28 236.45 L579.98 236.01 L580.67 235.48 L581.37 234.86 L582.07 234.14 L582.76 233.32 L583.46 232.39 L584.15 231.35 L584.85 230.2 L585.54 228.93 L586.24 227.53 L586.93 226 L587.63 224.36 L588.32 222.62 L589.02 220.78 L589.71 218.86 L590.41 216.87 L591.1 214.83 L591.8 212.74 L592.5 210.62 L593.19 208.48 L593.89 206.34 L594.58 204.2 L595.28 202.08 L595.97 199.99 L596.67 197.94 L597.36 195.95 L598.06 194.02 L598.75 192.16 L599.45 190.37 L600.14 188.65 L600.84 186.99 L601.53 185.4 L602.23 183.88 L602.92 182.43 L603.62 181.05 L604.32 179.74 L605.01 178.5 L605.71 177.33 L606.4 176.24 L607.1 175.21 L607.79 174.25 L608.49 173.37 L609.18 172.56 L609.88 171.82 L610.57 171.15 L611.27 170.54 L611.96 170 L612.66 169.52 L613.35 169.1 L614.05 168.74 L614.75 168.44 L615.44 168.19 L616.14 167.99 L616.83 167.85 L617.53 167.75 L618.22 167.7 L618.92 167.69 L619.61 167.73 L620.31 167.81 L621 167.93 L621.7 168.08 L622.39 168.27 L623.09 168.49 L623.78 168.74 L624.48 169.02 L625.17 169.33 L625.87 169.66 L626.57 170.02 L627.26 170.4 L627.96 170.79 L628.65 171.21 L629.35 171.64 L630.04 172.08 L630.74 172.53 L631.43 172.99 L632.13 173.46 L632.82 173.94 L633.52 174.42 L634.21 174.9 L634.91 175.38 L635.6 175.85 L636.3 176.32 L637 176.79 L637.69 177.25 L638.39 177.7 L639.08 178.15 L639.78 178.6 L640.47 179.04 L641.17 179.47 L641.86 179.91 L642.56 180.34 L643.25 180.77 L643.95 181.2 L644.64 181.62 L645.34 182.05 L646.03 182.47 L646.73 182.9 L647.42 183.32 L648.12 183.75 L648.82 184.18 L649.51 184.61 L650.21 185.05 L650.9 185.48 L651.6 185.92 L652.29 186.37 L652.99 186.82 L653.68 187.27 L654.38 187.73 L655.07 188.2 L655.77 188.67 L656.46 189.15 L657.16 189.64 L657.85 190.14 L658.55 190.64 L659.25 191.15 L659.94 191.67 L660.64 192.21 L661.33 192.75 L662.03 193.3 L662.72 193.87 L663.42 194.45 L664.11 195.04 L664.81 195.64 L665.5 196.25 L666.2 196.88 L666.89 197.53 L667.59 198.19 L668.28 198.86 L668.98 199.55 L669.67 200.26 L670.37 200.98 L671.07 201.72 L671.76 202.48 L672.46 203.25 L673.15 204.05 L673.85 204.86 L674.54 205.69 L675.24 206.55 L675.93 207.42 L676.63 208.32 L677.32 209.23 L678.02 210.17 L678.71 211.13 L679.41 212.12 L680.1 213.13 L680.8 214.16" fill="none" stroke="#808080" stroke-width="2.35" stroke-linejoin="round"/>
<path d="M547.3 223.07 L548 223.77 L548.69 224.46 L549.39 225.13 L550.08 225.8 L550.78 226.45 L551.47 227.09 L552.17 227.71 L552.86 228.33 L553.56 228.93 L554.25 229.52 L554.95 230.09 L555.64 230.66 L556.34 231.21 L557.03 231.75 L557.73 232.28 L558.42 232.79 L559.12 233.29 L559.82 233.79 L560.51 234.26 L561.21 234.73 L561.9 235.19 L562.6 235.63 L563.29 236.06 L563.99 236.48 L564.68 236.88 L565.38 237.28 L566.07 237.66 L566.77 238.03 L567.46 238.39 L568.16 238.73 L568.85 239.07 L569.55 239.39 L570.25 239.7 L570.94 239.98 L571.64 240.24 L572.33 240.44 L573.03 240.59 L573.72 240.68 L574.42 240.68 L575.11 240.6 L575.81 240.42 L576.5 240.13 L577.2 239.72 L577.89 239.17 L578.59 238.48 L579.28 237.64 L579.98 236.63 L580.67 235.44 L581.37 234.08 L582.07 232.53 L582.76 230.82 L583.46 228.95 L584.15 226.94 L584.85 224.79 L585.54 222.51 L586.24 220.13 L586.93 217.63 L587.63 215.05 L588.32 212.4 L589.02 209.69 L589.71 206.94 L590.41 204.17 L591.1 201.39 L591.8 198.62 L592.5 195.87 L593.19 193.15 L593.89 190.47 L594.58 187.82 L595.28 185.22 L595.97 182.68 L596.67 180.19 L597.36 177.76 L598.06 175.39 L598.75 173.11 L599.45 170.91 L600.14 168.81 L600.84 166.81 L601.53 164.93 L602.23 163.17 L602.92 161.56 L603.62 160.08 L604.32 158.75 L605.01 157.56 L605.71 156.5 L606.4 155.57 L607.1 154.76 L607.79 154.08 L608.49 153.52 L609.18 153.07 L609.88 152.73 L610.57 152.5 L611.27 152.36 L611.96 152.33 L612.66 152.39 L613.35 152.55 L614.05 152.79 L614.75 153.11 L615.44 153.51 L616.14 153.98 L616.83 154.53 L617.53 155.14 L618.22 155.82 L618.92 156.56 L619.61 157.36 L620.31 158.2 L621 159.1 L621.7 160.04 L622.39 161.02 L623.09 162.04 L623.78 163.09 L624.48 164.18 L625.17 165.29 L625.87 166.42 L626.57 167.56 L627.26 168.71 L627.96 169.85 L628.65 170.98 L629.35 172.09 L630.04 173.16 L630.74 174.19 L631.43 175.16 L632.13 176.09 L632.82 176.98 L633.52 177.81 L634.21 178.61 L634.91 179.37 L635.6 180.09 L636.3 180.78 L637 181.43 L637.69 182.05 L638.39 182.65 L639.08 183.23 L639.78 183.78 L640.47 184.31 L641.17 184.83 L641.86 185.33 L642.56 185.82 L643.25 186.3 L643.95 186.78 L644.64 187.25 L645.34 187.72 L646.03 188.19 L646.73 188.66 L647.42 189.14 L648.12 189.63 L648.82 190.12 L649.51 190.63 L650.21 191.14 L650.9 191.66 L651.6 192.18 L652.29 192.72 L652.99 193.26 L653.68 193.81 L654.38 194.37 L655.07 194.94 L655.77 195.51 L656.46 196.1 L657.16 196.69 L657.85 197.28 L658.55 197.89 L659.25 198.5 L659.94 199.12 L660.64 199.75 L661.33 200.38 L662.03 201.02 L662.72 201.67 L663.42 202.32 L664.11 202.98 L664.81 203.65 L665.5 204.33 L666.2 205.01 L666.89 205.7 L667.59 206.39 L668.28 207.1 L668.98 207.8 L669.67 208.52 L670.37 209.24 L671.07 209.97 L671.76 210.7 L672.46 211.44 L673.15 212.19 L673.85 212.94 L674.54 213.7 L675.24 214.46 L675.93 215.23 L676.63 216.01 L677.32 216.79 L678.02 217.57 L678.71 218.37 L679.41 219.17 L680.1 219.97 L680.8 220.78" fill="none" stroke="#0000ff" stroke-width="2.35" stroke-linejoin="round"/>
<path d="M547.3 223.08 L548 223.79 L548.69 224.48 L549.39 225.16 L550.08 225.82 L550.78 226.47 L551.47 227.1 L552.17 227.72 L552.86 228.32 L553.56 228.91 L554.25 229.49 L554.95 230.06 L555.64 230.61 L556.34 231.15 L557.03 231.67 L557.73 232.19 L558.42 232.69 L559.12 233.18 L559.82 233.67 L560.51 234.14 L561.21 234.6 L561.9 235.05 L562.6 235.49 L563.29 235.92 L563.99 236.35 L564.68 236.76 L565.38 237.16 L566.07 237.54 L566.77 237.9 L567.46 238.23 L568.16 238.52 L568.85 238.78 L569.55 238.99 L570.25 239.15 L570.94 239.25 L571.64 239.3 L572.33 239.28 L573.03 239.19 L573.72 239.03 L574.42 238.78 L575.11 238.43 L575.81 237.98 L576.5 237.41 L577.2 236.7 L577.89 235.84 L578.59 234.82 L579.28 233.63 L579.98 232.26 L580.67 230.68 L581.37 228.9 L582.07 226.93 L582.76 224.78 L583.46 222.47 L584.15 220.01 L584.85 217.43 L585.54 214.74 L586.24 211.96 L586.93 209.1 L587.63 206.19 L588.32 203.24 L589.02 200.26 L589.71 197.27 L590.41 194.3 L591.1 191.36 L591.8 188.45 L592.5 185.62 L593.19 182.86 L593.89 180.19 L594.58 177.64 L595.28 175.22 L595.97 172.95 L596.67 170.84 L597.36 168.92 L598.06 167.18 L598.75 165.63 L599.45 164.25 L600.14 163.02 L600.84 161.92 L601.53 160.94 L602.23 160.07 L602.92 159.28 L603.62 158.57 L604.32 157.94 L605.01 157.4 L605.71 156.95 L606.4 156.61 L607.1 156.37 L607.79 156.26 L608.49 156.27 L609.18 156.41 L609.88 156.65 L610.57 156.99 L611.27 157.42 L611.96 157.94 L612.66 158.51 L613.35 159.15 L614.05 159.83 L614.75 160.56 L615.44 161.31 L616.14 162.1 L616.83 162.91 L617.53 163.75 L618.22 164.62 L618.92 165.5 L619.61 166.39 L620.31 167.3 L621 168.22 L621.7 169.15 L622.39 170.08 L623.09 171.02 L623.78 171.95 L624.48 172.88 L625.17 173.8 L625.87 174.71 L626.57 175.6 L627.26 176.48 L627.96 177.34 L628.65 178.18 L629.35 178.99 L630.04 179.78 L630.74 180.53 L631.43 181.25 L632.13 181.94 L632.82 182.6 L633.52 183.23 L634.21 183.82 L634.91 184.4 L635.6 184.95 L636.3 185.47 L637 185.98 L637.69 186.47 L638.39 186.93 L639.08 187.39 L639.78 187.82 L640.47 188.25 L641.17 188.66 L641.86 189.06 L642.56 189.46 L643.25 189.85 L643.95 190.23 L644.64 190.61 L645.34 190.99 L646.03 191.36 L646.73 191.74 L647.42 192.13 L648.12 192.51 L648.82 192.9 L649.51 193.3 L650.21 193.71 L650.9 194.11 L651.6 194.53 L652.29 194.95 L652.99 195.38 L653.68 195.81 L654.38 196.26 L655.07 196.71 L655.77 197.16 L656.46 197.63 L657.16 198.1 L657.85 198.59 L658.55 199.08 L659.25 199.58 L659.94 200.09 L660.64 200.61 L661.33 201.14 L662.03 201.68 L662.72 202.24 L663.42 202.8 L664.11 203.37 L664.81 203.96 L665.5 204.56 L666.2 205.17 L666.89 205.79 L667.59 206.42 L668.28 207.07 L668.98 207.73 L669.67 208.4 L670.37 209.09 L671.07 209.79 L671.76 210.51 L672.46 211.24 L673.15 211.99 L673.85 212.75 L674.54 213.52 L675.24 214.32 L675.93 215.12 L676.63 215.95 L677.32 216.79 L678.02 217.65 L678.71 218.52 L679.41 219.42 L680.1 220.33 L680.8 221.25" fill="none" stroke="#00b000" stroke-width="2.35" stroke-linejoin="round"/>
<line x1="643.1" y1="161.85" x2="659.5" y2="161.85" stroke="#808080" stroke-width="2"/>
<text x="661.5" y="164.25" font-size="6.4" fill="#4a4a4a">NVO</text>
<line x1="643.1" y1="171.05" x2="659.5" y2="171.05" stroke="#0000ff" stroke-width="2"/>
<text x="661.5" y="173.45" font-size="6.4" fill="#4a4a4a">MVO</text>
<line x1="643.1" y1="180.25" x2="659.5" y2="180.25" stroke="#00b000" stroke-width="2"/>
<text x="661.5" y="182.65" font-size="6.4" fill="#4a4a4a">LVO</text>
<text x="547.3" y="261.3" font-size="6.8" fill="#4a4a4a" text-anchor="middle">0</text>
<text x="569.55" y="261.3" font-size="6.8" fill="#4a4a4a" text-anchor="middle">4</text>
<text x="591.8" y="261.3" font-size="6.8" fill="#4a4a4a" text-anchor="middle">8</text>
<text x="614.05" y="261.3" font-size="6.8" fill="#4a4a4a" text-anchor="middle">12</text>
<text x="636.3" y="261.3" font-size="6.8" fill="#4a4a4a" text-anchor="middle">16</text>
<text x="658.55" y="261.3" font-size="6.8" fill="#4a4a4a" text-anchor="middle">20</text>
<text x="680.8" y="261.3" font-size="6.8" fill="#4a4a4a" text-anchor="middle">24</text>
<text x="543.6" y="253.2" font-size="6.8" fill="#4a4a4a" text-anchor="end">0</text>
<text x="543.6" y="228.95" font-size="6.8" fill="#4a4a4a" text-anchor="end">2</text>
<text x="543.6" y="204.69" font-size="6.8" fill="#4a4a4a" text-anchor="end">4</text>
<text x="543.6" y="180.44" font-size="6.8" fill="#4a4a4a" text-anchor="end">6</text>
<text x="543.6" y="156.18" font-size="6.8" fill="#4a4a4a" text-anchor="end">8</text>
<text x="614.05" y="273.4" font-size="8.5" fill="#4a4a4a" text-anchor="middle">scan time in hours</text>
<text transform="translate(536.8 201.78) rotate(-90)" font-size="8.5" fill="#4a4a4a" text-anchor="middle">frequency (%)</text>
<text x="614.65" y="147.75" font-size="8.3" font-weight="bold" fill="#000" text-anchor="middle">Predictions</text>
<text transform="translate(536.1 144.95) scale(1.07 1)" font-size="9.3" font-weight="bold" fill="#000" stroke="#000" stroke-width="0.3">H)</text>
</g>
</svg>
</body></html>
